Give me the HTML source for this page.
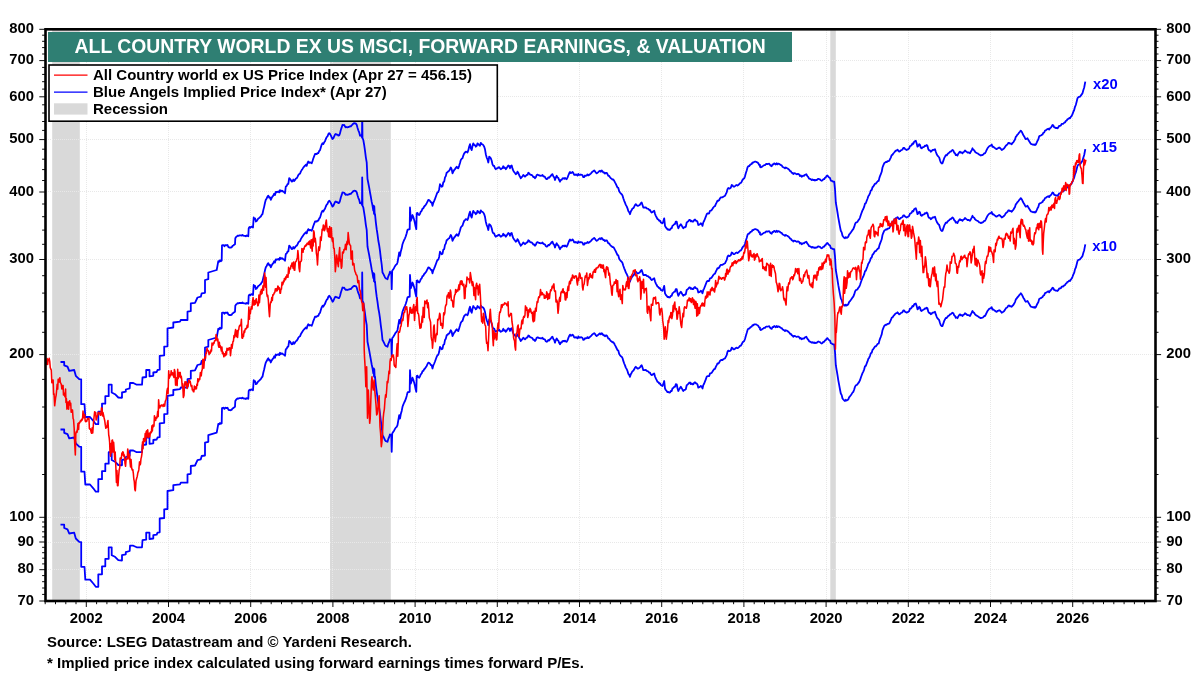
<!DOCTYPE html><html><head><meta charset="utf-8"><title>All Country World ex US MSCI</title>
<style>html,body{margin:0;padding:0;background:#fff}svg{display:block}text{font-family:"Liberation Sans",Arial,sans-serif;font-weight:bold}</style></head><body>
<svg width="1200" height="675" viewBox="0 0 1200 675">
<rect width="1200" height="675" fill="#fff"/>
<rect x="52.2" y="29.3" width="27.6" height="571.7" fill="#d9d9d9"/>
<rect x="330.0" y="29.3" width="60.8" height="571.7" fill="#d9d9d9"/>
<rect x="830.3" y="29.3" width="5.5" height="571.7" fill="#d9d9d9"/>
<path d="M46 569.5H1155.5 M46 542.5H1155.5 M46 517.5H1155.5 M46 354.5H1155.5 M46 259.5H1155.5 M46 191.5H1155.5 M46 139.5H1155.5 M46 96.5H1155.5 M46 60.5H1155.5 M86.5 30V601.0 M168.5 30V601.0 M250.5 30V601.0 M332.5 30V601.0 M415.5 30V601.0 M497.5 30V601.0 M579.5 30V601.0 M661.5 30V601.0 M743.5 30V601.0 M826.5 30V601.0 M908.5 30V601.0 M990.5 30V601.0 M1072.5 30V601.0" stroke="#e8e8e8" stroke-width="1" stroke-dasharray="1 1" fill="none"/>
<svg x="0" y="0" width="1200" height="675"><clipPath id="c"><rect x="45.5" y="29.3" width="1110.0" height="571.7"/></clipPath><g clip-path="url(#c)"><path d="M60.5 524.7 L64.2 524.7 L64.2 528.0 L67.5 529.3 L69.2 533.5 L74.2 532.7 L75.8 538.5 L79.2 541.8 L81.2 542.2 L81.2 566.8 L84.5 566.8 L85.3 579.7 L90.0 579.7 L93.3 583.5 L95.8 586.8 L98.3 586.8 L98.3 574.3 L102.0 574.3 L102.0 566.3 L105.3 566.3 L105.3 558.8 L108.7 558.8 L108.7 547.3 L111.7 547.3 L111.7 555.2 L115.0 556.8 L118.3 560.2 L122.0 560.5 L122.0 555.2 L125.8 554.3 L125.8 552.2 L129.7 551.0 L130.0 545.7 L133.3 545.7 L136.7 547.3 L142.0 547.3 L142.5 540.2 L146.2 539.7 L146.2 532.7 L149.5 532.7 L149.5 539.0 L153.3 538.5 L153.3 535.2 L156.7 534.7 L157.5 532.7 L159.7 532.3 L159.7 518.5 L164.2 518.0 L164.2 509.3 L167.5 509.0 L167.5 491.0 L173.3 490.2 L173.3 485.2 L180.0 484.3 L180.8 482.7 L187.5 482.7 L187.5 474.3 L190.8 473.8 L190.8 466.0 L195.0 465.5 L197.5 460.2 L200.8 459.3 L201.7 456.0 L205.0 455.5 L205.0 442.7 L208.3 441.8 L208.3 435.2 L216.7 432.7 L217.5 428.3 L218.3 423.8 L219.2 424.3 L220.0 423.0 L220.8 423.9 L221.7 423.2 L222.0 408.0 L222.8 407.8 L223.6 407.7 L224.4 408.9 L225.1 407.9 L225.9 407.7 L226.7 408.1 L227.5 407.7 L228.3 409.5 L229.2 410.2 L230.0 410.0 L230.8 410.3 L231.7 409.8 L232.5 408.5 L233.3 408.1 L234.2 407.3 L235.0 406.8 L235.3 401.0 L236.1 399.7 L236.9 399.0 L237.6 398.4 L238.4 398.6 L239.2 398.2 L240.0 398.1 L240.8 398.1 L241.7 398.3 L242.5 397.6 L243.3 398.3 L244.2 398.6 L245.0 398.5 L245.8 399.0 L246.7 398.2 L247.5 398.5 L248.3 398.8 L248.7 391.0 L249.5 389.7 L250.4 390.4 L251.3 389.3 L252.1 389.5 L253.0 390.2 L253.7 380.2 L254.4 381.9 L255.1 381.2 L255.8 383.5 L255.8 384.2 L256.7 383.7 L257.5 382.5 L258.3 381.2 L259.2 380.7 L260.0 379.8 L260.8 379.1 L261.7 377.5 L262.5 376.7 L263.3 372.8 L264.2 369.3 L265.0 365.5 L265.8 362.5 L266.7 361.1 L267.5 359.3 L268.3 358.3 L269.2 360.3 L270.0 360.1 L270.8 362.5 L271.7 360.5 L272.5 359.2 L273.3 358.3 L274.2 356.3 L275.0 357.7 L275.8 354.5 L276.7 355.0 L277.5 354.6 L278.3 354.2 L279.2 355.1 L280.0 352.8 L280.8 354.2 L281.7 353.3 L282.5 353.6 L283.3 354.5 L284.2 354.8 L285.0 355.8 L285.8 349.2 L286.7 348.7 L287.5 346.9 L288.3 346.7 L289.2 340.8 L290.0 341.6 L290.8 342.7 L291.7 344.3 L292.5 344.2 L293.3 342.2 L294.2 343.7 L295.0 342.7 L295.8 341.2 L296.7 340.8 L297.5 339.6 L298.3 337.8 L299.2 336.7 L300.0 336.3 L300.8 334.3 L301.7 332.8 L302.5 331.5 L303.3 330.3 L304.2 329.2 L305.0 328.5 L305.8 327.5 L306.7 328.5 L307.5 325.7 L308.3 324.2 L309.2 325.5 L310.0 325.0 L310.8 325.3 L311.7 325.8 L312.5 323.7 L313.3 321.1 L314.2 318.9 L315.0 316.7 L315.8 316.6 L316.7 316.8 L317.5 315.8 L318.3 315.8 L319.2 313.6 L320.0 312.9 L320.8 310.1 L321.7 307.3 L322.5 305.8 L323.3 306.7 L324.2 305.0 L325.0 303.9 L325.8 301.6 L326.7 299.8 L327.5 299.1 L328.3 296.9 L329.2 295.8 L330.0 296.7 L330.8 298.0 L331.7 299.9 L332.5 301.7 L333.3 301.0 L334.2 298.9 L335.0 297.1 L335.8 296.7 L336.7 297.4 L337.5 297.4 L338.3 298.1 L339.2 298.0 L340.0 296.0 L340.8 292.7 L341.7 290.0 L342.5 287.5 L343.3 287.9 L344.2 287.7 L345.0 289.1 L345.8 289.9 L346.7 289.7 L347.5 290.0 L348.3 289.7 L349.2 289.4 L350.0 288.9 L350.8 289.2 L351.7 287.9 L352.5 287.3 L353.3 286.2 L354.2 285.8 L355.0 286.1 L355.8 286.1 L356.7 287.5 L357.5 290.4 L358.3 292.9 L359.2 295.0 L360.0 298.3 L361.0 297.9 L362.0 300.0 L362.2 272.5 L362.5 300.8 L363.3 302.5 L364.2 307.9 L365.0 313.3 L365.8 319.8 L366.7 325.0 L367.5 341.7 L368.3 345.7 L369.2 350.3 L370.0 355.0 L370.8 359.3 L371.7 364.5 L372.5 368.2 L373.3 373.3 L373.7 368.3 L374.0 376.3 L374.3 369.2 L374.7 377.5 L375.0 376.7 L375.8 384.8 L376.7 391.8 L377.5 397.1 L378.3 403.2 L379.2 408.1 L380.0 413.5 L380.8 420.6 L381.7 427.1 L382.5 435.2 L383.3 436.4 L384.2 438.3 L385.0 440.2 L385.8 441.1 L386.7 441.4 L387.5 441.8 L388.3 438.9 L389.2 437.0 L390.0 434.3 L390.7 435.3 L391.3 435.2 L391.7 451.8 L392.2 433.5 L393.3 431.8 L394.2 430.4 L395.0 428.9 L395.8 427.6 L396.7 426.9 L397.5 425.2 L398.3 420.4 L399.2 415.2 L400.0 418.5 L400.8 414.1 L401.7 410.9 L402.5 406.8 L403.3 404.6 L404.2 402.5 L405.0 401.0 L405.8 398.9 L406.7 395.9 L407.5 392.7 L408.2 392.0 L408.9 392.2 L409.7 391.8 L410.0 370.2 L410.8 383.5 L411.7 380.8 L412.5 377.7 L413.3 379.8 L414.2 382.7 L414.9 385.6 L415.6 389.1 L416.3 391.8 L416.7 376.0 L417.5 375.6 L418.3 377.3 L419.2 377.7 L420.0 376.4 L420.8 374.3 L421.7 373.4 L422.5 371.2 L423.3 371.0 L424.2 369.2 L425.0 368.5 L425.8 367.3 L426.7 365.9 L427.5 364.2 L428.3 362.7 L429.2 362.9 L430.0 363.6 L430.8 365.0 L431.7 365.2 L432.5 368.5 L433.3 365.5 L434.2 363.5 L435.0 361.5 L435.8 359.3 L436.7 356.8 L437.5 355.0 L438.3 354.8 L439.2 351.8 L440.0 346.8 L440.8 348.1 L441.7 349.3 L442.5 348.8 L443.3 344.9 L444.2 344.3 L445.0 340.0 L445.8 338.7 L446.7 335.2 L447.5 334.9 L448.3 333.9 L449.2 333.5 L450.0 331.8 L450.8 330.2 L451.7 332.0 L452.5 336.0 L453.3 334.3 L454.2 332.6 L455.0 331.8 L455.8 330.4 L456.7 329.3 L457.5 330.6 L458.3 331.0 L459.2 328.2 L460.0 325.6 L460.8 322.7 L461.7 321.4 L462.5 321.0 L463.3 318.2 L464.2 316.0 L465.0 315.2 L465.8 314.3 L466.7 314.6 L467.5 315.2 L468.3 313.1 L469.2 309.1 L470.0 306.8 L470.8 310.8 L471.7 312.7 L472.5 308.8 L473.3 306.0 L474.2 307.7 L475.0 307.8 L475.8 309.3 L476.7 308.6 L477.5 306.0 L478.3 306.9 L479.2 307.9 L480.0 308.5 L480.8 305.5 L481.7 306.9 L482.5 307.1 L483.3 307.8 L484.2 309.3 L485.0 312.0 L485.8 316.8 L486.7 320.3 L487.5 322.0 L488.3 325.2 L489.2 319.3 L490.0 319.8 L490.8 321.0 L491.7 323.5 L492.5 327.1 L493.3 328.5 L494.2 328.6 L495.0 330.8 L495.8 331.8 L496.7 331.0 L497.5 331.0 L498.3 330.2 L499.2 329.7 L500.0 331.0 L500.8 331.8 L501.7 331.3 L502.5 330.7 L503.3 328.8 L504.2 330.7 L505.0 330.3 L505.8 331.8 L506.7 330.6 L507.5 329.3 L508.3 328.2 L509.2 328.8 L510.0 331.0 L510.8 328.8 L511.7 328.2 L512.5 331.2 L513.3 333.5 L514.2 334.7 L515.0 335.6 L515.8 336.8 L516.7 336.2 L517.5 334.3 L518.3 335.4 L519.2 337.9 L520.0 339.3 L520.8 341.0 L521.7 339.8 L522.5 339.0 L523.3 337.7 L524.2 338.6 L525.0 339.3 L525.8 338.5 L526.7 337.5 L527.5 337.5 L528.3 335.5 L529.2 335.9 L530.0 337.1 L530.8 337.4 L531.7 337.7 L532.5 338.3 L533.3 339.8 L534.2 339.7 L535.0 341.0 L535.8 340.0 L536.7 337.7 L537.5 337.3 L538.3 337.6 L539.2 338.2 L540.0 338.2 L540.8 338.4 L541.7 338.3 L542.5 337.7 L543.3 339.0 L544.2 339.2 L545.0 339.6 L545.8 341.3 L546.7 341.8 L547.5 341.4 L548.3 340.0 L549.2 340.5 L550.0 339.3 L550.8 338.6 L551.7 337.1 L552.5 336.8 L553.3 339.0 L554.2 340.0 L555.0 342.7 L555.8 340.1 L556.7 338.5 L557.5 340.2 L558.3 340.5 L559.2 342.9 L560.0 344.3 L560.8 342.5 L561.7 342.5 L562.5 341.0 L563.3 340.8 L564.2 341.4 L565.0 340.7 L565.8 341.5 L566.7 341.8 L567.5 340.4 L568.3 338.2 L569.2 336.0 L570.0 334.6 L570.8 335.8 L571.7 335.5 L572.5 334.7 L573.3 335.4 L574.2 337.4 L575.0 337.7 L575.8 337.1 L576.7 337.6 L577.5 338.3 L578.3 337.7 L578.3 336.5 L579.2 337.4 L580.0 337.6 L580.8 337.2 L581.7 337.4 L582.5 338.0 L583.3 339.8 L584.2 339.6 L585.0 338.2 L585.8 338.5 L586.7 338.2 L587.5 337.1 L588.3 338.1 L589.2 337.6 L590.0 336.8 L590.8 336.3 L591.7 335.2 L592.5 334.3 L593.3 333.8 L594.2 333.2 L595.0 333.9 L595.8 335.3 L596.7 336.0 L597.5 335.4 L598.3 334.8 L599.2 333.8 L600.0 333.4 L600.8 334.4 L601.7 333.2 L602.5 334.0 L603.3 335.3 L604.2 335.2 L605.0 336.3 L605.8 335.5 L606.7 335.5 L607.5 336.8 L608.3 338.6 L609.2 338.7 L610.0 340.0 L610.8 341.0 L611.7 341.5 L612.5 342.3 L613.3 342.2 L614.2 343.5 L615.0 345.1 L615.8 346.6 L616.7 348.5 L617.5 350.1 L618.3 350.5 L619.2 353.9 L620.0 355.2 L620.8 356.2 L621.7 356.8 L622.5 358.1 L623.3 360.9 L624.2 363.5 L625.0 365.4 L625.8 367.6 L626.7 369.1 L627.5 371.0 L628.3 373.7 L629.2 374.9 L630.0 376.8 L630.8 374.2 L631.7 372.7 L632.5 371.2 L633.3 370.8 L634.2 369.3 L635.0 367.7 L635.8 366.8 L636.7 367.8 L637.5 368.5 L638.3 368.5 L639.2 368.0 L640.0 367.4 L640.8 365.9 L641.7 365.2 L642.5 367.6 L643.3 370.2 L644.2 370.0 L645.0 370.2 L645.8 369.9 L646.7 371.0 L647.5 371.2 L648.3 371.5 L649.2 372.7 L650.0 372.7 L650.8 374.4 L651.7 375.2 L652.5 374.8 L653.3 373.9 L654.2 373.5 L655.0 376.5 L655.8 378.4 L656.7 380.2 L657.5 381.8 L658.3 382.0 L659.2 383.5 L660.0 383.3 L660.8 385.0 L661.7 385.5 L662.5 386.0 L663.3 383.9 L664.2 381.0 L665.0 388.5 L665.8 390.0 L666.7 391.0 L667.5 392.2 L668.3 391.9 L669.2 392.7 L670.0 392.5 L670.8 391.0 L671.7 391.0 L672.5 388.3 L673.3 388.0 L674.2 386.8 L675.0 386.8 L675.8 384.2 L676.7 384.3 L677.5 388.2 L678.3 391.0 L679.2 389.2 L680.0 388.0 L680.8 386.8 L681.7 388.2 L682.5 389.7 L683.3 391.0 L684.2 389.9 L685.0 389.9 L685.8 389.3 L686.7 385.2 L687.5 384.6 L688.3 383.9 L689.2 382.7 L690.0 382.5 L690.8 384.1 L691.7 383.5 L692.5 384.3 L693.3 384.3 L694.2 382.7 L695.0 382.2 L695.8 383.3 L696.7 383.5 L697.5 384.5 L698.3 387.7 L699.2 387.3 L700.0 386.8 L700.8 386.0 L701.7 386.6 L702.5 388.5 L703.3 385.1 L704.2 383.5 L705.0 381.4 L705.8 379.4 L706.7 376.8 L707.5 376.1 L708.3 376.1 L709.2 376.0 L710.0 373.5 L710.8 373.4 L711.7 372.7 L712.5 371.5 L713.3 370.2 L714.2 369.1 L715.0 368.8 L715.8 366.8 L716.7 365.1 L717.5 363.4 L718.3 363.5 L719.2 362.6 L720.0 360.9 L720.8 360.2 L721.7 360.0 L722.5 360.0 L723.3 359.3 L724.2 358.8 L725.0 358.4 L725.8 356.8 L726.7 355.1 L727.5 351.8 L728.3 350.6 L729.2 351.2 L730.0 351.0 L730.8 350.4 L731.7 347.7 L732.5 348.0 L733.3 349.3 L734.2 349.3 L735.0 348.7 L735.8 348.0 L736.7 347.7 L737.5 348.2 L738.3 347.7 L739.2 346.8 L740.0 345.9 L740.8 345.7 L741.7 344.3 L742.5 342.5 L743.3 341.7 L744.2 341.0 L745.0 339.0 L745.8 336.0 L746.7 333.1 L747.5 330.2 L748.3 328.7 L749.2 328.7 L750.0 327.7 L750.8 327.0 L751.7 326.7 L752.5 325.2 L753.3 325.4 L754.2 324.4 L755.0 324.3 L755.8 324.3 L756.7 324.8 L757.5 325.2 L758.3 325.9 L759.2 327.6 L760.0 327.7 L760.0 329.3 L760.8 330.0 L761.7 329.6 L762.5 328.9 L763.3 328.5 L764.2 327.8 L765.0 327.9 L765.8 326.8 L766.7 326.5 L767.5 326.7 L768.3 326.5 L769.2 326.2 L770.0 327.6 L770.8 328.5 L771.7 328.8 L772.5 327.0 L773.3 327.2 L774.2 326.0 L775.0 326.5 L775.8 327.2 L776.7 326.0 L777.5 327.1 L778.3 326.4 L779.2 326.6 L780.0 327.2 L780.8 327.8 L781.7 328.1 L782.5 329.3 L783.3 329.9 L784.2 330.3 L785.0 331.0 L785.8 330.2 L786.7 330.7 L787.5 331.0 L788.3 331.8 L789.2 332.4 L790.0 333.8 L790.8 333.8 L791.7 335.4 L792.5 335.5 L793.3 336.8 L794.2 335.8 L795.0 336.0 L795.8 336.5 L796.7 336.9 L797.5 336.7 L798.3 336.6 L799.2 337.2 L800.0 338.6 L800.8 338.0 L801.7 339.3 L802.5 338.6 L803.3 338.4 L804.2 338.5 L804.9 337.4 L805.6 337.2 L806.3 336.8 L807.3 338.6 L808.3 339.8 L809.2 341.3 L810.0 341.6 L810.8 342.0 L811.7 342.7 L812.5 342.1 L813.3 342.9 L814.2 342.5 L815.0 343.2 L815.8 342.7 L816.7 342.9 L817.5 342.0 L818.3 341.5 L819.2 341.9 L820.0 342.1 L820.8 343.0 L821.7 343.5 L822.5 343.0 L823.3 341.9 L824.2 341.8 L825.0 340.4 L825.8 340.1 L826.7 338.5 L827.5 338.1 L828.3 339.4 L829.2 340.2 L830.0 340.6 L830.8 343.2 L831.7 343.5 L832.5 344.1 L833.3 344.3 L834.2 344.3 L835.0 351.8 L835.8 365.2 L836.7 370.4 L837.5 375.2 L838.3 380.3 L839.2 385.2 L840.0 389.5 L840.8 393.5 L841.7 395.1 L842.5 398.5 L843.3 399.5 L844.2 400.5 L845.0 401.0 L845.8 399.8 L846.7 400.6 L847.5 400.1 L848.3 399.3 L849.2 397.1 L850.0 396.3 L850.8 395.2 L851.7 393.9 L852.5 392.6 L853.3 391.8 L854.2 389.5 L855.0 386.8 L855.8 385.3 L856.7 385.0 L857.5 384.3 L858.3 383.1 L859.2 381.9 L860.0 380.2 L860.8 377.7 L861.7 375.2 L862.5 373.1 L863.3 371.6 L864.2 369.3 L865.0 366.3 L865.8 365.9 L866.7 363.5 L867.5 361.4 L868.3 358.9 L869.2 357.7 L870.0 355.8 L870.8 353.3 L871.7 352.7 L872.5 349.9 L873.3 349.1 L874.2 347.7 L875.0 346.4 L875.8 346.4 L876.7 345.2 L877.7 343.8 L878.7 343.5 L879.4 340.6 L880.1 338.5 L880.8 336.8 L881.7 334.4 L882.5 330.2 L883.3 328.1 L884.2 326.0 L885.0 325.3 L885.8 324.7 L886.7 324.8 L887.5 323.8 L888.3 323.8 L889.2 323.5 L890.0 321.8 L890.8 320.2 L891.7 317.7 L892.5 317.5 L893.3 316.1 L894.2 315.2 L895.0 314.1 L895.8 313.3 L896.7 313.2 L897.5 312.3 L898.3 313.4 L899.2 314.3 L900.0 314.0 L900.8 313.0 L901.7 312.7 L902.5 312.1 L903.3 310.5 L904.2 310.5 L905.0 311.7 L905.8 312.1 L906.7 312.7 L907.5 312.1 L908.3 311.8 L909.2 311.0 L910.0 308.6 L910.8 308.5 L911.7 307.7 L912.5 306.0 L913.3 306.4 L914.2 304.3 L915.0 303.8 L915.8 303.5 L916.7 306.1 L917.5 309.3 L918.3 308.5 L919.2 306.8 L920.0 307.6 L920.8 310.4 L921.7 311.0 L922.5 310.0 L923.3 309.8 L924.2 309.3 L925.0 308.3 L925.8 308.7 L926.7 307.7 L927.5 308.5 L928.3 311.8 L929.2 313.0 L930.0 313.0 L930.8 314.3 L931.7 313.8 L932.5 312.6 L933.3 312.7 L934.2 312.4 L935.0 311.8 L935.8 314.4 L936.7 316.8 L937.5 318.3 L938.3 319.2 L939.2 320.2 L940.0 323.0 L940.8 325.2 L941.7 326.1 L942.5 326.0 L943.3 323.6 L944.2 320.9 L945.0 319.3 L945.8 317.8 L946.7 318.0 L947.5 316.8 L948.3 315.9 L949.2 315.5 L950.0 314.3 L950.8 314.3 L951.7 313.2 L952.5 312.7 L953.3 313.2 L954.2 315.4 L955.0 316.0 L955.8 317.8 L956.7 317.3 L957.5 318.2 L958.3 316.4 L959.2 315.1 L960.0 314.3 L960.8 315.4 L961.7 315.1 L962.5 316.0 L963.3 314.8 L964.2 314.5 L965.0 313.2 L965.8 313.8 L966.7 314.5 L967.5 315.2 L968.3 315.1 L969.2 315.4 L970.0 316.0 L970.8 314.4 L971.7 312.7 L972.5 311.0 L973.3 312.4 L974.2 312.9 L975.0 314.3 L975.8 315.1 L976.7 315.7 L977.5 316.0 L978.3 316.6 L979.2 317.4 L980.0 317.7 L980.8 318.2 L981.7 317.8 L982.5 317.7 L983.3 317.1 L984.2 316.0 L985.0 316.0 L985.8 314.5 L986.7 312.6 L987.5 311.0 L988.3 310.0 L989.2 308.9 L990.0 308.5 L990.8 308.1 L991.7 307.2 L992.5 309.6 L993.3 309.4 L994.2 310.2 L995.0 310.8 L995.8 311.5 L996.7 311.8 L997.5 310.9 L998.3 310.8 L999.2 310.2 L1000.0 310.6 L1000.8 311.5 L1001.7 312.7 L1002.5 312.2 L1003.3 311.7 L1004.2 311.0 L1005.0 309.8 L1005.8 308.3 L1006.7 307.7 L1007.5 307.1 L1008.3 305.6 L1009.2 305.5 L1010.0 306.4 L1010.8 306.2 L1011.7 306.8 L1012.5 305.7 L1013.3 305.0 L1014.2 303.5 L1015.0 302.1 L1015.8 299.4 L1016.7 298.5 L1017.5 297.2 L1018.3 296.5 L1019.2 295.2 L1020.0 294.3 L1020.8 293.3 L1021.7 294.3 L1022.5 295.9 L1023.3 297.7 L1024.2 299.0 L1025.0 300.7 L1025.8 301.8 L1026.7 301.4 L1027.5 301.0 L1028.3 302.4 L1029.2 303.9 L1030.0 305.2 L1030.8 306.6 L1031.7 306.8 L1032.5 307.2 L1033.3 307.5 L1034.2 306.9 L1035.0 307.8 L1035.8 307.2 L1036.7 305.2 L1037.5 303.5 L1038.3 302.2 L1039.2 299.0 L1040.0 298.5 L1040.8 298.2 L1041.7 297.5 L1042.5 297.2 L1043.3 295.6 L1044.2 295.2 L1045.0 293.2 L1045.8 292.9 L1046.7 292.2 L1047.5 291.8 L1048.3 291.3 L1049.2 292.3 L1050.0 291.0 L1050.8 290.3 L1051.7 289.1 L1052.5 287.7 L1053.3 288.1 L1054.2 290.0 L1055.0 290.2 L1055.8 290.7 L1056.7 290.6 L1057.5 291.0 L1058.3 290.1 L1059.2 288.4 L1060.0 288.5 L1060.8 288.2 L1061.7 286.6 L1062.5 286.5 L1063.3 286.5 L1064.2 285.4 L1065.0 285.2 L1065.8 283.7 L1066.7 283.1 L1067.5 281.8 L1068.3 281.7 L1069.2 280.6 L1070.0 281.0 L1070.8 279.6 L1071.7 278.5 L1072.5 276.8 L1073.3 274.6 L1074.2 272.7 L1075.0 269.4 L1075.8 267.7 L1076.7 264.2 L1077.5 261.0 L1078.3 259.9 L1079.2 259.6 L1080.0 259.3 L1080.8 258.2 L1081.7 257.1 L1082.5 256.0 L1083.3 253.0 L1084.2 250.2 L1085.3 244.3" stroke="#0000ff" stroke-width="1.8" fill="none" stroke-linejoin="round"/>
<path d="M60.5 429.5 L64.2 429.5 L64.2 432.8 L67.5 434.2 L69.2 438.3 L74.2 437.5 L75.8 443.3 L79.2 446.7 L81.2 447.0 L81.2 471.7 L84.5 471.7 L85.3 484.5 L90.0 484.5 L93.3 488.3 L95.8 491.7 L98.3 491.7 L98.3 479.2 L102.0 479.2 L102.0 471.2 L105.3 471.2 L105.3 463.7 L108.7 463.7 L108.7 452.2 L111.7 452.2 L111.7 460.0 L115.0 461.7 L118.3 465.0 L122.0 465.3 L122.0 460.0 L125.8 459.2 L125.8 457.0 L129.7 455.8 L130.0 450.5 L133.3 450.5 L136.7 452.2 L142.0 452.2 L142.5 445.0 L146.2 444.5 L146.2 437.5 L149.5 437.5 L149.5 443.8 L153.3 443.3 L153.3 440.0 L156.7 439.5 L157.5 437.5 L159.7 437.2 L159.7 423.3 L164.2 422.8 L164.2 414.2 L167.5 413.8 L167.5 395.8 L173.3 395.0 L173.3 390.0 L180.0 389.2 L180.8 387.5 L187.5 387.5 L187.5 379.2 L190.8 378.7 L190.8 370.8 L195.0 370.3 L197.5 365.0 L200.8 364.2 L201.7 360.8 L205.0 360.3 L205.0 347.5 L208.3 346.7 L208.3 340.0 L216.7 337.5 L217.5 333.1 L218.3 328.7 L219.2 329.2 L220.0 327.8 L220.8 328.7 L221.7 328.0 L222.0 312.8 L222.8 312.6 L223.6 312.6 L224.4 313.7 L225.1 312.7 L225.9 312.6 L226.7 312.9 L227.5 312.5 L228.3 314.4 L229.2 315.0 L230.0 314.9 L230.8 315.1 L231.7 314.7 L232.5 313.4 L233.3 313.0 L234.2 312.2 L235.0 311.7 L235.3 305.8 L236.1 304.5 L236.9 303.9 L237.6 303.2 L238.4 303.4 L239.2 303.0 L240.0 303.0 L240.8 302.9 L241.7 303.2 L242.5 302.5 L243.3 303.2 L244.2 303.4 L245.0 303.3 L245.8 303.8 L246.7 303.0 L247.5 303.4 L248.3 303.7 L248.7 295.8 L249.5 294.6 L250.4 295.2 L251.3 294.1 L252.1 294.4 L253.0 295.0 L253.7 285.0 L254.4 286.7 L255.1 286.0 L255.8 288.3 L255.8 289.0 L256.7 288.5 L257.5 287.3 L258.3 286.0 L259.2 285.5 L260.0 284.6 L260.8 284.0 L261.7 282.3 L262.5 281.5 L263.3 277.6 L264.2 274.1 L265.0 270.3 L265.8 267.3 L266.7 265.9 L267.5 264.1 L268.3 263.2 L269.2 265.2 L270.0 264.9 L270.8 267.3 L271.7 265.4 L272.5 264.0 L273.3 263.2 L274.2 261.2 L275.0 262.6 L275.8 259.4 L276.7 259.8 L277.5 259.4 L278.3 259.0 L279.2 259.9 L280.0 257.6 L280.8 259.0 L281.7 258.2 L282.5 258.4 L283.3 259.3 L284.2 259.7 L285.0 260.7 L285.8 254.0 L286.7 253.5 L287.5 251.7 L288.3 251.5 L289.2 245.7 L290.0 246.5 L290.8 247.5 L291.7 249.2 L292.5 249.0 L293.3 247.0 L294.2 248.5 L295.0 247.5 L295.8 246.1 L296.7 245.7 L297.5 244.5 L298.3 242.6 L299.2 241.5 L300.0 241.2 L300.8 239.1 L301.7 237.6 L302.5 236.4 L303.3 235.2 L304.2 234.0 L305.0 233.3 L305.8 232.3 L306.7 233.4 L307.5 230.6 L308.3 229.1 L309.2 230.4 L310.0 229.8 L310.8 230.2 L311.7 230.7 L312.5 228.6 L313.3 226.0 L314.2 223.7 L315.0 221.5 L315.8 221.5 L316.7 221.6 L317.5 220.6 L318.3 220.7 L319.2 218.5 L320.0 217.7 L320.8 215.0 L321.7 212.1 L322.5 210.7 L323.3 211.5 L324.2 209.8 L325.0 208.7 L325.8 206.5 L326.7 204.6 L327.5 203.9 L328.3 201.8 L329.2 200.7 L330.0 201.6 L330.8 202.9 L331.7 204.8 L332.5 206.5 L333.3 205.9 L334.2 203.8 L335.0 202.0 L335.8 201.5 L336.7 202.2 L337.5 202.2 L338.3 203.0 L339.2 202.8 L340.0 200.9 L340.8 197.5 L341.7 194.9 L342.5 192.3 L343.3 192.7 L344.2 192.6 L345.0 194.0 L345.8 194.8 L346.7 194.5 L347.5 194.8 L348.3 194.5 L349.2 194.3 L350.0 193.8 L350.8 194.0 L351.7 192.7 L352.5 192.1 L353.3 191.1 L354.2 190.7 L355.0 191.0 L355.8 190.9 L356.7 192.3 L357.5 195.2 L358.3 197.8 L359.2 199.8 L360.0 203.2 L361.0 202.7 L362.0 204.8 L362.2 177.3 L362.5 205.7 L363.3 207.3 L364.2 212.8 L365.0 218.2 L365.8 224.6 L366.7 229.8 L367.5 246.5 L368.3 250.6 L369.2 255.1 L370.0 259.8 L370.8 264.1 L371.7 269.4 L372.5 273.1 L373.3 278.2 L373.7 273.2 L374.0 281.2 L374.3 274.0 L374.7 282.3 L375.0 281.5 L375.8 289.6 L376.7 296.7 L377.5 301.9 L378.3 308.0 L379.2 312.9 L380.0 318.3 L380.8 325.4 L381.7 332.0 L382.5 340.0 L383.3 341.3 L384.2 343.2 L385.0 345.0 L385.8 345.9 L386.7 346.2 L387.5 346.7 L388.3 343.8 L389.2 341.9 L390.0 339.2 L390.7 340.1 L391.3 340.0 L391.7 356.7 L392.2 338.3 L393.3 336.7 L394.2 335.3 L395.0 333.8 L395.8 332.5 L396.7 331.8 L397.5 330.0 L398.3 325.3 L399.2 320.0 L400.0 323.3 L400.8 318.9 L401.7 315.8 L402.5 311.7 L403.3 309.5 L404.2 307.4 L405.0 305.8 L405.8 303.7 L406.7 300.7 L407.5 297.5 L408.2 296.8 L408.9 297.0 L409.7 296.7 L410.0 275.0 L410.8 288.3 L411.7 285.7 L412.5 282.5 L413.3 284.6 L414.2 287.5 L414.9 290.5 L415.6 294.0 L416.3 296.7 L416.7 280.8 L417.5 280.4 L418.3 282.1 L419.2 282.5 L420.0 281.2 L420.8 279.2 L421.7 278.3 L422.5 276.1 L423.3 275.8 L424.2 274.0 L425.0 273.3 L425.8 272.2 L426.7 270.7 L427.5 269.1 L428.3 267.5 L429.2 267.7 L430.0 268.4 L430.8 269.8 L431.7 270.0 L432.5 273.3 L433.3 270.3 L434.2 268.3 L435.0 266.4 L435.8 264.2 L436.7 261.7 L437.5 259.8 L438.3 259.7 L439.2 256.7 L440.0 251.7 L440.8 253.0 L441.7 254.2 L442.5 253.7 L443.3 249.7 L444.2 249.2 L445.0 244.9 L445.8 243.6 L446.7 240.0 L447.5 239.8 L448.3 238.7 L449.2 238.3 L450.0 236.6 L450.8 235.0 L451.7 236.9 L452.5 240.8 L453.3 239.1 L454.2 237.5 L455.0 236.7 L455.8 235.3 L456.7 234.2 L457.5 235.5 L458.3 235.8 L459.2 233.1 L460.0 230.5 L460.8 227.5 L461.7 226.3 L462.5 225.8 L463.3 223.1 L464.2 220.8 L465.0 220.1 L465.8 219.2 L466.7 219.4 L467.5 220.0 L468.3 217.9 L469.2 214.0 L470.0 211.7 L470.8 215.6 L471.7 217.5 L472.5 213.6 L473.3 210.8 L474.2 212.5 L475.0 212.6 L475.8 214.2 L476.7 213.4 L477.5 210.8 L478.3 211.7 L479.2 212.7 L480.0 213.3 L480.8 210.3 L481.7 211.7 L482.5 211.9 L483.3 212.6 L484.2 214.2 L485.0 216.8 L485.8 221.7 L486.7 225.1 L487.5 226.8 L488.3 230.0 L489.2 224.2 L490.0 224.7 L490.8 225.8 L491.7 228.3 L492.5 231.9 L493.3 233.3 L494.2 233.5 L495.0 235.7 L495.8 236.7 L496.7 235.9 L497.5 235.8 L498.3 235.0 L499.2 234.6 L500.0 235.9 L500.8 236.7 L501.7 236.1 L502.5 235.5 L503.3 233.7 L504.2 235.5 L505.0 235.2 L505.8 236.7 L506.7 235.5 L507.5 234.2 L508.3 233.0 L509.2 233.7 L510.0 235.8 L510.8 233.6 L511.7 233.0 L512.5 236.1 L513.3 238.3 L514.2 239.6 L515.0 240.5 L515.8 241.7 L516.7 241.1 L517.5 239.2 L518.3 240.3 L519.2 242.8 L520.0 244.2 L520.8 245.8 L521.7 244.7 L522.5 243.9 L523.3 242.5 L524.2 243.4 L525.0 244.2 L525.8 243.4 L526.7 242.4 L527.5 242.4 L528.3 240.3 L529.2 240.7 L530.0 242.0 L530.8 242.3 L531.7 242.5 L532.5 243.1 L533.3 244.6 L534.2 244.5 L535.0 245.8 L535.8 244.8 L536.7 242.5 L537.5 242.2 L538.3 242.5 L539.2 243.1 L540.0 243.0 L540.8 243.3 L541.7 243.2 L542.5 242.5 L543.3 243.8 L544.2 244.1 L545.0 244.5 L545.8 246.1 L546.7 246.7 L547.5 246.2 L548.3 244.9 L549.2 245.3 L550.0 244.2 L550.8 243.4 L551.7 242.0 L552.5 241.7 L553.3 243.9 L554.2 244.8 L555.0 247.5 L555.8 244.9 L556.7 243.3 L557.5 245.0 L558.3 245.4 L559.2 247.7 L560.0 249.2 L560.8 247.3 L561.7 247.3 L562.5 245.8 L563.3 245.6 L564.2 246.3 L565.0 245.5 L565.8 246.3 L566.7 246.7 L567.5 245.2 L568.3 243.0 L569.2 240.8 L570.0 239.5 L570.8 240.7 L571.7 240.3 L572.5 239.5 L573.3 240.3 L574.2 242.3 L575.0 242.5 L575.8 241.9 L576.7 242.5 L577.5 243.1 L578.3 242.5 L578.3 241.3 L579.2 242.3 L580.0 242.5 L580.8 242.0 L581.7 242.3 L582.5 242.8 L583.3 244.7 L584.2 244.5 L585.0 243.0 L585.8 243.3 L586.7 243.0 L587.5 242.0 L588.3 242.9 L589.2 242.4 L590.0 241.7 L590.8 241.1 L591.7 240.0 L592.5 239.2 L593.3 238.6 L594.2 238.0 L595.0 238.8 L595.8 240.1 L596.7 240.8 L597.5 240.2 L598.3 239.6 L599.2 238.7 L600.0 238.2 L600.8 239.3 L601.7 238.0 L602.5 238.8 L603.3 240.1 L604.2 240.0 L605.0 241.1 L605.8 240.3 L606.7 240.3 L607.5 241.7 L608.3 243.4 L609.2 243.5 L610.0 244.8 L610.8 245.8 L611.7 246.3 L612.5 247.2 L613.3 247.1 L614.2 248.3 L615.0 249.9 L615.8 251.4 L616.7 253.3 L617.5 255.0 L618.3 255.4 L619.2 258.8 L620.0 260.0 L620.8 261.0 L621.7 261.7 L622.5 262.9 L623.3 265.7 L624.2 268.3 L625.0 270.2 L625.8 272.4 L626.7 274.0 L627.5 275.8 L628.3 278.5 L629.2 279.7 L630.0 281.7 L630.8 279.0 L631.7 277.5 L632.5 276.0 L633.3 275.7 L634.2 274.2 L635.0 272.6 L635.8 271.7 L636.7 272.7 L637.5 273.3 L638.3 273.3 L639.2 272.8 L640.0 272.2 L640.8 270.7 L641.7 270.0 L642.5 272.5 L643.3 275.0 L644.2 274.9 L645.0 275.1 L645.8 274.8 L646.7 275.8 L647.5 276.1 L648.3 276.4 L649.2 277.5 L650.0 277.5 L650.8 279.2 L651.7 280.0 L652.5 279.7 L653.3 278.7 L654.2 278.3 L655.0 281.3 L655.8 283.3 L656.7 285.0 L657.5 286.7 L658.3 286.9 L659.2 288.3 L660.0 288.1 L660.8 289.9 L661.7 290.4 L662.5 290.8 L663.3 288.7 L664.2 285.8 L665.0 293.3 L665.8 294.8 L666.7 295.8 L667.5 297.1 L668.3 296.8 L669.2 297.5 L670.0 297.3 L670.8 295.9 L671.7 295.8 L672.5 293.2 L673.3 292.8 L674.2 291.7 L675.0 291.7 L675.8 289.1 L676.7 289.2 L677.5 293.1 L678.3 295.8 L679.2 294.1 L680.0 292.8 L680.8 291.7 L681.7 293.1 L682.5 294.6 L683.3 295.8 L684.2 294.7 L685.0 294.8 L685.8 294.2 L686.7 290.0 L687.5 289.4 L688.3 288.8 L689.2 287.5 L690.0 287.4 L690.8 288.9 L691.7 288.3 L692.5 289.1 L693.3 289.1 L694.2 287.5 L695.0 287.0 L695.8 288.2 L696.7 288.3 L697.5 289.4 L698.3 292.5 L699.2 292.2 L700.0 291.7 L700.8 290.8 L701.7 291.5 L702.5 293.3 L703.3 290.0 L704.2 288.3 L705.0 286.2 L705.8 284.2 L706.7 281.7 L707.5 281.0 L708.3 281.0 L709.2 280.8 L710.0 278.3 L710.8 278.2 L711.7 277.5 L712.5 276.3 L713.3 275.0 L714.2 274.0 L715.0 273.6 L715.8 271.7 L716.7 269.9 L717.5 268.2 L718.3 268.3 L719.2 267.5 L720.0 265.8 L720.8 265.0 L721.7 264.9 L722.5 264.8 L723.3 264.2 L724.2 263.7 L725.0 263.3 L725.8 261.7 L726.7 259.9 L727.5 256.7 L728.3 255.5 L729.2 256.1 L730.0 255.8 L730.8 255.3 L731.7 252.5 L732.5 252.8 L733.3 254.1 L734.2 254.2 L735.0 253.6 L735.8 252.8 L736.7 252.5 L737.5 253.1 L738.3 252.5 L739.2 251.7 L740.0 250.7 L740.8 250.5 L741.7 249.2 L742.5 247.3 L743.3 246.5 L744.2 245.8 L745.0 243.8 L745.8 240.8 L746.7 237.9 L747.5 235.0 L748.3 233.6 L749.2 233.6 L750.0 232.5 L750.8 231.8 L751.7 231.5 L752.5 230.0 L753.3 230.2 L754.2 229.3 L755.0 229.2 L755.8 229.2 L756.7 229.6 L757.5 230.0 L758.3 230.7 L759.2 232.5 L760.0 232.5 L760.0 234.2 L760.8 234.8 L761.7 234.5 L762.5 233.8 L763.3 233.3 L764.2 232.6 L765.0 232.7 L765.8 231.7 L766.7 231.4 L767.5 231.6 L768.3 231.3 L769.2 231.1 L770.0 232.4 L770.8 233.3 L771.7 233.7 L772.5 231.9 L773.3 232.0 L774.2 230.9 L775.0 231.3 L775.8 232.0 L776.7 230.8 L777.5 231.9 L778.3 231.2 L779.2 231.4 L780.0 232.0 L780.8 232.7 L781.7 232.9 L782.5 234.2 L783.3 234.7 L784.2 235.1 L785.0 235.8 L785.8 235.0 L786.7 235.5 L787.5 235.8 L788.3 236.6 L789.2 237.2 L790.0 238.7 L790.8 238.6 L791.7 240.3 L792.5 240.3 L793.3 241.6 L794.2 240.7 L795.0 240.8 L795.8 241.3 L796.7 241.8 L797.5 241.5 L798.3 241.4 L799.2 242.0 L800.0 243.5 L800.8 242.9 L801.7 244.2 L802.5 243.5 L803.3 243.2 L804.2 243.3 L804.9 242.3 L805.6 242.1 L806.3 241.7 L807.3 243.5 L808.3 244.7 L809.2 246.2 L810.0 246.4 L810.8 246.8 L811.7 247.5 L812.5 246.9 L813.3 247.7 L814.2 247.4 L815.0 248.0 L815.8 247.5 L816.7 247.7 L817.5 246.9 L818.3 246.3 L819.2 246.7 L820.0 246.9 L820.8 247.8 L821.7 248.3 L822.5 247.8 L823.3 246.7 L824.2 246.7 L825.0 245.3 L825.8 244.9 L826.7 243.3 L827.5 243.0 L828.3 244.2 L829.2 245.0 L830.0 245.5 L830.8 248.1 L831.7 248.3 L832.5 248.9 L833.3 249.2 L834.2 249.2 L835.0 256.7 L835.8 270.0 L836.7 275.2 L837.5 280.0 L838.3 285.2 L839.2 290.0 L840.0 294.3 L840.8 298.3 L841.7 300.0 L842.5 303.3 L843.3 304.3 L844.2 305.3 L845.0 305.8 L845.8 304.6 L846.7 305.5 L847.5 305.0 L848.3 304.2 L849.2 301.9 L850.0 301.1 L850.8 300.0 L851.7 298.7 L852.5 297.5 L853.3 296.7 L854.2 294.4 L855.0 291.7 L855.8 290.1 L856.7 289.9 L857.5 289.2 L858.3 287.9 L859.2 286.8 L860.0 285.0 L860.8 282.5 L861.7 280.0 L862.5 277.9 L863.3 276.5 L864.2 274.2 L865.0 271.1 L865.8 270.8 L866.7 268.3 L867.5 266.2 L868.3 263.8 L869.2 262.5 L870.0 260.6 L870.8 258.2 L871.7 257.5 L872.5 254.7 L873.3 254.0 L874.2 252.5 L875.0 251.2 L875.8 251.2 L876.7 250.0 L877.7 248.7 L878.7 248.3 L879.4 245.4 L880.1 243.4 L880.8 241.7 L881.7 239.3 L882.5 235.0 L883.3 232.9 L884.2 230.8 L885.0 230.1 L885.8 229.5 L886.7 229.7 L887.5 228.6 L888.3 228.7 L889.2 228.3 L890.0 226.6 L890.8 225.1 L891.7 222.5 L892.5 222.3 L893.3 221.0 L894.2 220.0 L895.0 219.0 L895.8 218.2 L896.7 218.0 L897.5 217.1 L898.3 218.2 L899.2 219.2 L900.0 218.8 L900.8 217.9 L901.7 217.5 L902.5 217.0 L903.3 215.3 L904.2 215.3 L905.0 216.5 L905.8 216.9 L906.7 217.5 L907.5 217.0 L908.3 216.6 L909.2 215.8 L910.0 213.5 L910.8 213.3 L911.7 212.5 L912.5 210.9 L913.3 211.3 L914.2 209.2 L915.0 208.6 L915.8 208.3 L916.7 211.0 L917.5 214.2 L918.3 213.4 L919.2 211.7 L920.0 212.5 L920.8 215.2 L921.7 215.8 L922.5 214.9 L923.3 214.7 L924.2 214.2 L925.0 213.1 L925.8 213.5 L926.7 212.5 L927.5 213.4 L928.3 216.7 L929.2 217.9 L930.0 217.9 L930.8 219.2 L931.7 218.6 L932.5 217.4 L933.3 217.5 L934.2 217.2 L935.0 216.7 L935.8 219.3 L936.7 221.7 L937.5 223.1 L938.3 224.1 L939.2 225.0 L940.0 227.8 L940.8 230.0 L941.7 231.0 L942.5 230.8 L943.3 228.4 L944.2 225.7 L945.0 224.2 L945.8 222.6 L946.7 222.9 L947.5 221.7 L948.3 220.8 L949.2 220.3 L950.0 219.2 L950.8 219.2 L951.7 218.1 L952.5 217.5 L953.3 218.1 L954.2 220.2 L955.0 220.8 L955.8 222.6 L956.7 222.2 L957.5 223.0 L958.3 221.2 L959.2 220.0 L960.0 219.2 L960.8 220.2 L961.7 220.0 L962.5 220.8 L963.3 219.7 L964.2 219.3 L965.0 218.0 L965.8 218.7 L966.7 219.4 L967.5 220.0 L968.3 220.0 L969.2 220.2 L970.0 220.8 L970.8 219.3 L971.7 217.6 L972.5 215.8 L973.3 217.3 L974.2 217.8 L975.0 219.2 L975.8 219.9 L976.7 220.5 L977.5 220.8 L978.3 221.4 L979.2 222.3 L980.0 222.5 L980.8 223.1 L981.7 222.6 L982.5 222.5 L983.3 222.0 L984.2 220.9 L985.0 220.8 L985.8 219.3 L986.7 217.4 L987.5 215.8 L988.3 214.8 L989.2 213.7 L990.0 213.3 L990.8 213.0 L991.7 212.0 L992.5 214.4 L993.3 214.2 L994.2 215.0 L995.0 215.6 L995.8 216.4 L996.7 216.7 L997.5 215.8 L998.3 215.6 L999.2 215.0 L1000.0 215.5 L1000.8 216.3 L1001.7 217.5 L1002.5 217.1 L1003.3 216.5 L1004.2 215.8 L1005.0 214.7 L1005.8 213.2 L1006.7 212.5 L1007.5 211.9 L1008.3 210.5 L1009.2 210.3 L1010.0 211.2 L1010.8 211.0 L1011.7 211.7 L1012.5 210.6 L1013.3 209.9 L1014.2 208.3 L1015.0 207.0 L1015.8 204.3 L1016.7 203.3 L1017.5 202.1 L1018.3 201.3 L1019.2 200.0 L1020.0 199.1 L1020.8 198.1 L1021.7 199.2 L1022.5 200.8 L1023.3 202.5 L1024.2 203.9 L1025.0 205.5 L1025.8 206.7 L1026.7 206.3 L1027.5 205.8 L1028.3 207.3 L1029.2 208.7 L1030.0 210.0 L1030.8 211.4 L1031.7 211.6 L1032.5 212.0 L1033.3 212.3 L1034.2 211.8 L1035.0 212.6 L1035.8 212.0 L1036.7 210.1 L1037.5 208.3 L1038.3 207.1 L1039.2 203.8 L1040.0 203.3 L1040.8 203.0 L1041.7 202.4 L1042.5 202.0 L1043.3 200.4 L1044.2 200.0 L1045.0 198.0 L1045.8 197.8 L1046.7 197.0 L1047.5 196.7 L1048.3 196.1 L1049.2 197.1 L1050.0 195.8 L1050.8 195.1 L1051.7 194.0 L1052.5 192.5 L1053.3 192.9 L1054.2 194.9 L1055.0 195.0 L1055.8 195.6 L1056.7 195.4 L1057.5 195.8 L1058.3 194.9 L1059.2 193.3 L1060.0 193.3 L1060.8 193.0 L1061.7 191.4 L1062.5 191.3 L1063.3 191.4 L1064.2 190.2 L1065.0 190.0 L1065.8 188.5 L1066.7 188.0 L1067.5 186.7 L1068.3 186.5 L1069.2 185.5 L1070.0 185.8 L1070.8 184.4 L1071.7 183.4 L1072.5 181.7 L1073.3 179.4 L1074.2 177.5 L1075.0 174.3 L1075.8 172.5 L1076.7 169.0 L1077.5 165.8 L1078.3 164.8 L1079.2 164.4 L1080.0 164.2 L1080.8 163.1 L1081.7 161.9 L1082.5 160.8 L1083.3 157.8 L1084.2 155.0 L1085.3 149.2" stroke="#0000ff" stroke-width="1.8" fill="none" stroke-linejoin="round"/>
<path d="M60.5 362.0 L64.2 362.0 L64.2 365.3 L67.5 366.7 L69.2 370.8 L74.2 370.0 L75.8 375.8 L79.2 379.2 L81.2 379.5 L81.2 404.2 L84.5 404.2 L85.3 417.0 L90.0 417.0 L93.3 420.8 L95.8 424.2 L98.3 424.2 L98.3 411.7 L102.0 411.7 L102.0 403.7 L105.3 403.7 L105.3 396.2 L108.7 396.2 L108.7 384.7 L111.7 384.7 L111.7 392.5 L115.0 394.2 L118.3 397.5 L122.0 397.8 L122.0 392.5 L125.8 391.7 L125.8 389.5 L129.7 388.3 L130.0 383.0 L133.3 383.0 L136.7 384.7 L142.0 384.7 L142.5 377.5 L146.2 377.0 L146.2 370.0 L149.5 370.0 L149.5 376.3 L153.3 375.8 L153.3 372.5 L156.7 372.0 L157.5 370.0 L159.7 369.7 L159.7 355.8 L164.2 355.3 L164.2 346.7 L167.5 346.3 L167.5 328.3 L173.3 327.5 L173.3 322.5 L180.0 321.7 L180.8 320.0 L187.5 320.0 L187.5 311.7 L190.8 311.2 L190.8 303.3 L195.0 302.8 L197.5 297.5 L200.8 296.7 L201.7 293.3 L205.0 292.8 L205.0 280.0 L208.3 279.2 L208.3 272.5 L216.7 270.0 L217.5 265.6 L218.3 261.2 L219.2 261.7 L220.0 260.3 L220.8 261.2 L221.7 260.5 L222.0 245.3 L222.8 245.1 L223.6 245.1 L224.4 246.2 L225.1 245.2 L225.9 245.1 L226.7 245.4 L227.5 245.0 L228.3 246.9 L229.2 247.5 L230.0 247.4 L230.8 247.6 L231.7 247.2 L232.5 245.9 L233.3 245.5 L234.2 244.7 L235.0 244.2 L235.3 238.3 L236.1 237.0 L236.9 236.4 L237.6 235.7 L238.4 235.9 L239.2 235.5 L240.0 235.4 L240.8 235.4 L241.7 235.7 L242.5 234.9 L243.3 235.7 L244.2 235.9 L245.0 235.8 L245.8 236.3 L246.7 235.5 L247.5 235.9 L248.3 236.2 L248.7 228.3 L249.5 227.0 L250.4 227.7 L251.3 226.6 L252.1 226.9 L253.0 227.5 L253.7 217.5 L254.4 219.2 L255.1 218.5 L255.8 220.8 L255.8 221.5 L256.7 221.0 L257.5 219.8 L258.3 218.5 L259.2 218.0 L260.0 217.1 L260.8 216.5 L261.7 214.8 L262.5 214.0 L263.3 210.1 L264.2 206.6 L265.0 202.8 L265.8 199.8 L266.7 198.4 L267.5 196.6 L268.3 195.7 L269.2 197.6 L270.0 197.4 L270.8 199.8 L271.7 197.8 L272.5 196.5 L273.3 195.7 L274.2 193.7 L275.0 195.0 L275.8 191.8 L276.7 192.3 L277.5 191.9 L278.3 191.5 L279.2 192.4 L280.0 190.1 L280.8 191.5 L281.7 190.7 L282.5 190.9 L283.3 191.8 L284.2 192.2 L285.0 193.2 L285.8 186.5 L286.7 186.0 L287.5 184.2 L288.3 184.0 L289.2 178.2 L290.0 179.0 L290.8 180.0 L291.7 181.7 L292.5 181.5 L293.3 179.5 L294.2 181.0 L295.0 180.0 L295.8 178.6 L296.7 178.2 L297.5 176.9 L298.3 175.1 L299.2 174.0 L300.0 173.7 L300.8 171.6 L301.7 170.1 L302.5 168.9 L303.3 167.6 L304.2 166.5 L305.0 165.8 L305.8 164.8 L306.7 165.8 L307.5 163.1 L308.3 161.5 L309.2 162.9 L310.0 162.3 L310.8 162.7 L311.7 163.2 L312.5 161.1 L313.3 158.5 L314.2 156.2 L315.0 154.0 L315.8 154.0 L316.7 154.1 L317.5 153.1 L318.3 153.2 L319.2 151.0 L320.0 150.2 L320.8 147.5 L321.7 144.6 L322.5 143.2 L323.3 144.0 L324.2 142.3 L325.0 141.2 L325.8 139.0 L326.7 137.1 L327.5 136.4 L328.3 134.2 L329.2 133.2 L330.0 134.0 L330.8 135.4 L331.7 137.3 L332.5 139.0 L333.3 138.4 L334.2 136.3 L335.0 134.5 L335.8 134.0 L336.7 134.7 L337.5 134.7 L338.3 135.5 L339.2 135.3 L340.0 133.4 L340.8 130.0 L341.7 127.4 L342.5 124.8 L343.3 125.2 L344.2 125.0 L345.0 126.5 L345.8 127.3 L346.7 127.0 L347.5 127.3 L348.3 127.0 L349.2 126.8 L350.0 126.3 L350.8 126.5 L351.7 125.2 L352.5 124.6 L353.3 123.5 L354.2 123.2 L355.0 123.5 L355.8 123.4 L356.7 124.8 L357.5 127.7 L358.3 130.3 L359.2 132.3 L360.0 135.7 L361.0 135.2 L362.0 137.3 L362.2 109.8 L362.5 138.2 L363.3 139.8 L364.2 145.2 L365.0 150.7 L365.8 157.1 L366.7 162.3 L367.5 179.0 L368.3 183.0 L369.2 187.6 L370.0 192.3 L370.8 196.6 L371.7 201.9 L372.5 205.6 L373.3 210.7 L373.7 205.7 L374.0 213.7 L374.3 206.5 L374.7 214.8 L375.0 214.0 L375.8 222.1 L376.7 229.2 L377.5 234.4 L378.3 240.5 L379.2 245.4 L380.0 250.8 L380.8 257.9 L381.7 264.5 L382.5 272.5 L383.3 273.8 L384.2 275.7 L385.0 277.5 L385.8 278.4 L386.7 278.7 L387.5 279.2 L388.3 276.3 L389.2 274.4 L390.0 271.7 L390.7 272.6 L391.3 272.5 L391.7 289.2 L392.2 270.8 L393.3 269.2 L394.2 267.7 L395.0 266.2 L395.8 264.9 L396.7 264.3 L397.5 262.5 L398.3 257.8 L399.2 252.5 L400.0 255.8 L400.8 251.4 L401.7 248.3 L402.5 244.2 L403.3 242.0 L404.2 239.9 L405.0 238.3 L405.8 236.2 L406.7 233.2 L407.5 230.0 L408.2 229.3 L408.9 229.5 L409.7 229.2 L410.0 207.5 L410.8 220.8 L411.7 218.2 L412.5 215.0 L413.3 217.1 L414.2 220.0 L414.9 223.0 L415.6 226.5 L416.3 229.2 L416.7 213.3 L417.5 212.9 L418.3 214.6 L419.2 215.0 L420.0 213.7 L420.8 211.7 L421.7 210.8 L422.5 208.6 L423.3 208.3 L424.2 206.5 L425.0 205.8 L425.8 204.7 L426.7 203.2 L427.5 201.6 L428.3 200.0 L429.2 200.2 L430.0 200.9 L430.8 202.3 L431.7 202.5 L432.5 205.8 L433.3 202.8 L434.2 200.8 L435.0 198.9 L435.8 196.7 L436.7 194.2 L437.5 192.3 L438.3 192.1 L439.2 189.2 L440.0 184.2 L440.8 185.4 L441.7 186.7 L442.5 186.2 L443.3 182.2 L444.2 181.7 L445.0 177.4 L445.8 176.1 L446.7 172.5 L447.5 172.3 L448.3 171.2 L449.2 170.8 L450.0 169.1 L450.8 167.5 L451.7 169.4 L452.5 173.3 L453.3 171.6 L454.2 170.0 L455.0 169.2 L455.8 167.8 L456.7 166.7 L457.5 168.0 L458.3 168.3 L459.2 165.6 L460.0 163.0 L460.8 160.0 L461.7 158.8 L462.5 158.3 L463.3 155.6 L464.2 153.3 L465.0 152.5 L465.8 151.7 L466.7 151.9 L467.5 152.5 L468.3 150.4 L469.2 146.5 L470.0 144.2 L470.8 148.1 L471.7 150.0 L472.5 146.1 L473.3 143.3 L474.2 145.0 L475.0 145.1 L475.8 146.7 L476.7 145.9 L477.5 143.3 L478.3 144.2 L479.2 145.2 L480.0 145.8 L480.8 142.8 L481.7 144.2 L482.5 144.4 L483.3 145.1 L484.2 146.7 L485.0 149.3 L485.8 154.2 L486.7 157.6 L487.5 159.3 L488.3 162.5 L489.2 156.7 L490.0 157.2 L490.8 158.3 L491.7 160.8 L492.5 164.4 L493.3 165.8 L494.2 166.0 L495.0 168.2 L495.8 169.2 L496.7 168.4 L497.5 168.3 L498.3 167.5 L499.2 167.1 L500.0 168.4 L500.8 169.2 L501.7 168.6 L502.5 168.0 L503.3 166.2 L504.2 168.0 L505.0 167.7 L505.8 169.2 L506.7 168.0 L507.5 166.6 L508.3 165.5 L509.2 166.1 L510.0 168.3 L510.8 166.1 L511.7 165.5 L512.5 168.6 L513.3 170.8 L514.2 172.1 L515.0 173.0 L515.8 174.2 L516.7 173.6 L517.5 171.7 L518.3 172.8 L519.2 175.3 L520.0 176.7 L520.8 178.3 L521.7 177.2 L522.5 176.4 L523.3 175.0 L524.2 175.9 L525.0 176.7 L525.8 175.8 L526.7 174.9 L527.5 174.8 L528.3 172.8 L529.2 173.2 L530.0 174.5 L530.8 174.8 L531.7 175.0 L532.5 175.6 L533.3 177.1 L534.2 177.0 L535.0 178.3 L535.8 177.3 L536.7 175.0 L537.5 174.7 L538.3 175.0 L539.2 175.5 L540.0 175.5 L540.8 175.8 L541.7 175.7 L542.5 175.0 L543.3 176.3 L544.2 176.5 L545.0 177.0 L545.8 178.6 L546.7 179.2 L547.5 178.7 L548.3 177.4 L549.2 177.8 L550.0 176.7 L550.8 175.9 L551.7 174.5 L552.5 174.2 L553.3 176.3 L554.2 177.3 L555.0 180.0 L555.8 177.4 L556.7 175.8 L557.5 177.5 L558.3 177.9 L559.2 180.2 L560.0 181.7 L560.8 179.8 L561.7 179.8 L562.5 178.3 L563.3 178.1 L564.2 178.8 L565.0 178.0 L565.8 178.8 L566.7 179.2 L567.5 177.7 L568.3 175.5 L569.2 173.3 L570.0 172.0 L570.8 173.2 L571.7 172.8 L572.5 172.0 L573.3 172.8 L574.2 174.8 L575.0 175.0 L575.8 174.4 L576.7 174.9 L577.5 175.6 L578.3 175.0 L578.3 173.8 L579.2 174.8 L580.0 175.0 L580.8 174.5 L581.7 174.8 L582.5 175.3 L583.3 177.2 L584.2 177.0 L585.0 175.5 L585.8 175.8 L586.7 175.5 L587.5 174.4 L588.3 175.4 L589.2 174.9 L590.0 174.2 L590.8 173.6 L591.7 172.5 L592.5 171.7 L593.3 171.1 L594.2 170.5 L595.0 171.3 L595.8 172.6 L596.7 173.3 L597.5 172.7 L598.3 172.1 L599.2 171.2 L600.0 170.7 L600.8 171.8 L601.7 170.5 L602.5 171.3 L603.3 172.6 L604.2 172.5 L605.0 173.6 L605.8 172.8 L606.7 172.8 L607.5 174.2 L608.3 175.9 L609.2 176.0 L610.0 177.3 L610.8 178.3 L611.7 178.8 L612.5 179.6 L613.3 179.5 L614.2 180.8 L615.0 182.4 L615.8 183.9 L616.7 185.8 L617.5 187.5 L618.3 187.9 L619.2 191.3 L620.0 192.5 L620.8 193.5 L621.7 194.2 L622.5 195.4 L623.3 198.2 L624.2 200.8 L625.0 202.7 L625.8 204.9 L626.7 206.4 L627.5 208.3 L628.3 211.0 L629.2 212.2 L630.0 214.2 L630.8 211.5 L631.7 210.0 L632.5 208.5 L633.3 208.2 L634.2 206.7 L635.0 205.1 L635.8 204.2 L636.7 205.2 L637.5 205.8 L638.3 205.8 L639.2 205.3 L640.0 204.7 L640.8 203.2 L641.7 202.5 L642.5 205.0 L643.3 207.5 L644.2 207.4 L645.0 207.6 L645.8 207.3 L646.7 208.3 L647.5 208.6 L648.3 208.8 L649.2 210.0 L650.0 210.0 L650.8 211.7 L651.7 212.5 L652.5 212.2 L653.3 211.2 L654.2 210.8 L655.0 213.8 L655.8 215.8 L656.7 217.5 L657.5 219.2 L658.3 219.4 L659.2 220.8 L660.0 220.6 L660.8 222.4 L661.7 222.9 L662.5 223.3 L663.3 221.2 L664.2 218.3 L665.0 225.8 L665.8 227.3 L666.7 228.3 L667.5 229.6 L668.3 229.3 L669.2 230.0 L670.0 229.8 L670.8 228.4 L671.7 228.3 L672.5 225.7 L673.3 225.3 L674.2 224.2 L675.0 224.1 L675.8 221.6 L676.7 221.7 L677.5 225.5 L678.3 228.3 L679.2 226.6 L680.0 225.3 L680.8 224.2 L681.7 225.6 L682.5 227.0 L683.3 228.3 L684.2 227.2 L685.0 227.3 L685.8 226.7 L686.7 222.5 L687.5 221.9 L688.3 221.3 L689.2 220.0 L690.0 219.9 L690.8 221.4 L691.7 220.8 L692.5 221.6 L693.3 221.6 L694.2 220.0 L695.0 219.5 L695.8 220.6 L696.7 220.8 L697.5 221.9 L698.3 225.0 L699.2 224.6 L700.0 224.2 L700.8 223.3 L701.7 223.9 L702.5 225.8 L703.3 222.4 L704.2 220.8 L705.0 218.7 L705.8 216.7 L706.7 214.2 L707.5 213.4 L708.3 213.5 L709.2 213.3 L710.0 210.8 L710.8 210.7 L711.7 210.0 L712.5 208.8 L713.3 207.5 L714.2 206.5 L715.0 206.1 L715.8 204.2 L716.7 202.4 L717.5 200.7 L718.3 200.8 L719.2 200.0 L720.0 198.3 L720.8 197.5 L721.7 197.4 L722.5 197.3 L723.3 196.7 L724.2 196.2 L725.0 195.8 L725.8 194.2 L726.7 192.4 L727.5 189.2 L728.3 188.0 L729.2 188.6 L730.0 188.3 L730.8 187.8 L731.7 185.0 L732.5 185.3 L733.3 186.6 L734.2 186.7 L735.0 186.1 L735.8 185.3 L736.7 185.0 L737.5 185.6 L738.3 185.0 L739.2 184.2 L740.0 183.2 L740.8 183.0 L741.7 181.7 L742.5 179.8 L743.3 179.0 L744.2 178.3 L745.0 176.3 L745.8 173.3 L746.7 170.4 L747.5 167.5 L748.3 166.1 L749.2 166.1 L750.0 165.0 L750.8 164.3 L751.7 164.0 L752.5 162.5 L753.3 162.7 L754.2 161.8 L755.0 161.7 L755.8 161.7 L756.7 162.1 L757.5 162.5 L758.3 163.2 L759.2 165.0 L760.0 165.0 L760.0 166.7 L760.8 167.3 L761.7 167.0 L762.5 166.2 L763.3 165.8 L764.2 165.1 L765.0 165.2 L765.8 164.2 L766.7 163.9 L767.5 164.1 L768.3 163.8 L769.2 163.6 L770.0 164.9 L770.8 165.8 L771.7 166.2 L772.5 164.4 L773.3 164.5 L774.2 163.4 L775.0 163.8 L775.8 164.5 L776.7 163.3 L777.5 164.4 L778.3 163.7 L779.2 163.9 L780.0 164.5 L780.8 165.1 L781.7 165.4 L782.5 166.7 L783.3 167.2 L784.2 167.6 L785.0 168.3 L785.8 167.5 L786.7 168.0 L787.5 168.3 L788.3 169.1 L789.2 169.7 L790.0 171.2 L790.8 171.1 L791.7 172.8 L792.5 172.8 L793.3 174.1 L794.2 173.2 L795.0 173.3 L795.8 173.8 L796.7 174.3 L797.5 174.0 L798.3 173.9 L799.2 174.5 L800.0 176.0 L800.8 175.4 L801.7 176.7 L802.5 176.0 L803.3 175.7 L804.2 175.8 L804.9 174.8 L805.6 174.6 L806.3 174.2 L807.3 176.0 L808.3 177.2 L809.2 178.7 L810.0 178.9 L810.8 179.3 L811.7 180.0 L812.5 179.4 L813.3 180.2 L814.2 179.8 L815.0 180.5 L815.8 180.0 L816.7 180.2 L817.5 179.3 L818.3 178.8 L819.2 179.2 L820.0 179.4 L820.8 180.3 L821.7 180.8 L822.5 180.3 L823.3 179.2 L824.2 179.2 L825.0 177.8 L825.8 177.4 L826.7 175.8 L827.5 175.5 L828.3 176.7 L829.2 177.5 L830.0 178.0 L830.8 180.6 L831.7 180.8 L832.5 181.4 L833.3 181.7 L834.2 181.7 L835.0 189.2 L835.8 202.5 L836.7 207.7 L837.5 212.5 L838.3 217.6 L839.2 222.5 L840.0 226.8 L840.8 230.8 L841.7 232.4 L842.5 235.8 L843.3 236.8 L844.2 237.8 L845.0 238.3 L845.8 237.1 L846.7 237.9 L847.5 237.4 L848.3 236.7 L849.2 234.4 L850.0 233.6 L850.8 232.5 L851.7 231.2 L852.5 230.0 L853.3 229.2 L854.2 226.9 L855.0 224.2 L855.8 222.6 L856.7 222.4 L857.5 221.7 L858.3 220.4 L859.2 219.3 L860.0 217.5 L860.8 215.0 L861.7 212.5 L862.5 210.4 L863.3 209.0 L864.2 206.7 L865.0 203.6 L865.8 203.3 L866.7 200.8 L867.5 198.7 L868.3 196.2 L869.2 195.0 L870.0 193.1 L870.8 190.6 L871.7 190.0 L872.5 187.2 L873.3 186.5 L874.2 185.0 L875.0 183.7 L875.8 183.7 L876.7 182.5 L877.7 181.2 L878.7 180.8 L879.4 177.9 L880.1 175.8 L880.8 174.2 L881.7 171.8 L882.5 167.5 L883.3 165.4 L884.2 163.3 L885.0 162.6 L885.8 162.0 L886.7 162.2 L887.5 161.1 L888.3 161.2 L889.2 160.8 L890.0 159.1 L890.8 157.6 L891.7 155.0 L892.5 154.8 L893.3 153.5 L894.2 152.5 L895.0 151.5 L895.8 150.7 L896.7 150.5 L897.5 149.6 L898.3 150.7 L899.2 151.7 L900.0 151.3 L900.8 150.4 L901.7 150.0 L902.5 149.5 L903.3 147.8 L904.2 147.8 L905.0 149.0 L905.8 149.4 L906.7 150.0 L907.5 149.5 L908.3 149.1 L909.2 148.3 L910.0 146.0 L910.8 145.8 L911.7 145.0 L912.5 143.4 L913.3 143.8 L914.2 141.7 L915.0 141.1 L915.8 140.8 L916.7 143.5 L917.5 146.7 L918.3 145.9 L919.2 144.2 L920.0 145.0 L920.8 147.7 L921.7 148.3 L922.5 147.4 L923.3 147.2 L924.2 146.7 L925.0 145.6 L925.8 146.0 L926.7 145.0 L927.5 145.9 L928.3 149.2 L929.2 150.4 L930.0 150.4 L930.8 151.7 L931.7 151.1 L932.5 149.9 L933.3 150.0 L934.2 149.7 L935.0 149.2 L935.8 151.8 L936.7 154.2 L937.5 155.6 L938.3 156.5 L939.2 157.5 L940.0 160.3 L940.8 162.5 L941.7 163.5 L942.5 163.3 L943.3 160.9 L944.2 158.2 L945.0 156.7 L945.8 155.1 L946.7 155.4 L947.5 154.2 L948.3 153.3 L949.2 152.8 L950.0 151.7 L950.8 151.7 L951.7 150.6 L952.5 150.0 L953.3 150.5 L954.2 152.7 L955.0 153.3 L955.8 155.1 L956.7 154.7 L957.5 155.5 L958.3 153.7 L959.2 152.5 L960.0 151.7 L960.8 152.7 L961.7 152.4 L962.5 153.3 L963.3 152.2 L964.2 151.8 L965.0 150.5 L965.8 151.2 L966.7 151.9 L967.5 152.5 L968.3 152.5 L969.2 152.7 L970.0 153.3 L970.8 151.7 L971.7 150.1 L972.5 148.3 L973.3 149.8 L974.2 150.3 L975.0 151.7 L975.8 152.4 L976.7 153.0 L977.5 153.3 L978.3 153.9 L979.2 154.7 L980.0 155.0 L980.8 155.5 L981.7 155.1 L982.5 155.0 L983.3 154.5 L984.2 153.3 L985.0 153.3 L985.8 151.8 L986.7 149.9 L987.5 148.3 L988.3 147.3 L989.2 146.2 L990.0 145.8 L990.8 145.5 L991.7 144.5 L992.5 146.9 L993.3 146.7 L994.2 147.5 L995.0 148.1 L995.8 148.8 L996.7 149.2 L997.5 148.3 L998.3 148.1 L999.2 147.5 L1000.0 148.0 L1000.8 148.8 L1001.7 150.0 L1002.5 149.6 L1003.3 149.0 L1004.2 148.3 L1005.0 147.1 L1005.8 145.7 L1006.7 145.0 L1007.5 144.4 L1008.3 142.9 L1009.2 142.8 L1010.0 143.7 L1010.8 143.5 L1011.7 144.2 L1012.5 143.0 L1013.3 142.4 L1014.2 140.8 L1015.0 139.5 L1015.8 136.8 L1016.7 135.8 L1017.5 134.6 L1018.3 133.8 L1019.2 132.5 L1020.0 131.6 L1020.8 130.6 L1021.7 131.7 L1022.5 133.3 L1023.3 135.0 L1024.2 136.4 L1025.0 138.0 L1025.8 139.2 L1026.7 138.8 L1027.5 138.3 L1028.3 139.8 L1029.2 141.2 L1030.0 142.5 L1030.8 143.9 L1031.7 144.1 L1032.5 144.5 L1033.3 144.8 L1034.2 144.3 L1035.0 145.1 L1035.8 144.5 L1036.7 142.6 L1037.5 140.8 L1038.3 139.6 L1039.2 136.3 L1040.0 135.8 L1040.8 135.5 L1041.7 134.9 L1042.5 134.5 L1043.3 132.9 L1044.2 132.5 L1045.0 130.5 L1045.8 130.3 L1046.7 129.5 L1047.5 129.2 L1048.3 128.6 L1049.2 129.6 L1050.0 128.3 L1050.8 127.6 L1051.7 126.5 L1052.5 125.0 L1053.3 125.4 L1054.2 127.4 L1055.0 127.5 L1055.8 128.1 L1056.7 127.9 L1057.5 128.3 L1058.3 127.4 L1059.2 125.8 L1060.0 125.8 L1060.8 125.5 L1061.7 123.9 L1062.5 123.8 L1063.3 123.8 L1064.2 122.7 L1065.0 122.5 L1065.8 121.0 L1066.7 120.5 L1067.5 119.2 L1068.3 119.0 L1069.2 118.0 L1070.0 118.3 L1070.8 116.9 L1071.7 115.9 L1072.5 114.2 L1073.3 111.9 L1074.2 110.0 L1075.0 106.8 L1075.8 105.0 L1076.7 101.5 L1077.5 98.3 L1078.3 97.2 L1079.2 96.9 L1080.0 96.7 L1080.8 95.6 L1081.7 94.4 L1082.5 93.3 L1083.3 90.3 L1084.2 87.5 L1085.3 81.7" stroke="#0000ff" stroke-width="1.8" fill="none" stroke-linejoin="round"/>
<path d="M46.67 365.0 L47.16 358.6 L47.66 364.4 L48.17 359.7 L48.67 360.5 L49.17 358.3 L49.75 361.4 L50.24 367.5 L50.83 369.2 L51.31 370.2 L51.85 382.8 L52.50 380.0 L53.14 380.1 L53.61 394.4 L54.06 393.9 L54.67 405.8 L55.08 402.4 L55.60 397.9 L56.16 395.1 L56.67 390.0 L57.15 384.3 L57.69 389.1 L58.17 379.3 L58.67 379.2 L59.16 381.9 L59.85 377.7 L60.33 382.4 L60.83 383.3 L61.35 384.7 L61.86 388.9 L62.50 388.3 L63.05 385.4 L63.48 395.0 L64.09 393.3 L64.44 395.1 L65.00 396.7 L65.58 389.0 L65.98 402.5 L66.41 398.5 L66.95 409.1 L67.50 406.7 L67.96 402.1 L68.63 409.2 L69.05 402.3 L69.67 400.8 L70.08 405.0 L70.73 403.2 L71.16 412.3 L71.67 410.0 L72.02 409.9 L72.50 410.0 L73.08 418.5 L73.53 419.5 L74.17 428.3 L74.70 443.2 L75.33 455.0 L75.83 433.3 L76.48 431.3 L77.02 432.4 L77.50 429.2 L77.94 423.5 L78.53 429.4 L78.92 422.8 L79.45 423.3 L80.00 421.7 L80.55 420.7 L80.91 421.6 L81.42 419.4 L82.02 420.1 L82.50 419.2 L83.03 411.0 L83.61 417.8 L84.17 414.2 L84.74 415.0 L85.21 421.0 L85.83 421.7 L86.42 420.6 L86.77 421.3 L87.38 418.8 L87.92 419.3 L88.33 418.3 L88.97 418.2 L89.37 428.4 L90.00 429.2 L90.46 428.9 L91.15 432.3 L91.67 433.3 L92.17 427.9 L92.74 433.0 L93.33 425.0 L93.94 418.0 L94.67 411.7 L95.11 414.4 L95.68 412.6 L96.12 419.9 L96.67 418.3 L97.31 416.2 L97.73 415.0 L98.33 412.5 L98.82 412.3 L99.31 413.8 L99.85 413.2 L100.41 415.3 L100.83 415.0 L101.51 407.9 L102.00 408.3 L102.56 416.0 L103.01 412.6 L103.71 416.0 L104.17 418.3 L104.76 420.8 L105.31 425.2 L105.83 428.3 L106.39 426.1 L107.04 427.1 L107.50 422.5 L107.97 420.5 L108.69 434.6 L109.17 437.5 L109.63 442.3 L110.00 451.7 L110.58 456.2 L110.97 443.5 L111.57 452.7 L111.98 440.3 L112.50 440.0 L113.07 452.0 L113.64 442.3 L114.17 450.0 L114.74 459.6 L115.19 452.0 L115.83 466.7 L116.45 482.4 L116.96 470.6 L117.47 485.8 L118.00 485.8 L118.57 476.9 L119.17 470.0 L119.77 467.7 L120.18 458.1 L120.83 458.3 L121.28 458.6 L121.87 453.0 L122.42 454.9 L122.78 451.8 L123.33 452.5 L123.92 456.4 L124.38 455.0 L125.00 463.3 L125.59 466.3 L126.10 459.0 L126.67 459.2 L127.26 458.9 L127.72 449.0 L128.33 452.5 L128.97 459.0 L129.52 454.2 L130.00 461.7 L130.52 467.0 L131.04 459.4 L131.67 468.3 L132.29 470.1 L132.82 469.6 L133.33 473.3 L133.77 478.8 L134.32 481.6 L134.82 489.5 L135.33 490.8 L136.03 480.7 L136.67 478.3 L137.29 476.2 L137.87 472.6 L138.33 471.7 L138.80 469.9 L139.52 461.9 L140.00 465.0 L140.51 463.9 L140.96 458.9 L141.43 457.1 L142.00 453.3 L142.53 442.1 L143.03 448.8 L143.55 438.5 L144.17 441.7 L144.66 441.0 L145.19 433.5 L145.76 440.8 L146.20 431.7 L146.67 430.8 L147.16 436.8 L147.68 429.8 L148.33 437.5 L148.77 436.9 L149.29 433.3 L149.84 436.8 L150.36 432.7 L150.83 431.7 L151.39 432.6 L151.91 425.9 L152.38 431.0 L152.76 425.1 L153.33 426.7 L153.97 425.9 L154.42 415.7 L155.00 420.0 L155.61 420.5 L156.20 417.2 L156.67 418.3 L157.11 417.3 L157.71 411.2 L158.21 416.6 L158.61 399.8 L159.17 406.7 L159.76 408.0 L160.17 405.8 L160.75 406.5 L161.24 405.1 L161.67 405.0 L162.15 405.5 L162.68 405.2 L163.07 406.5 L163.73 404.2 L164.17 405.8 L164.66 406.1 L165.24 401.5 L165.83 400.0 L166.32 398.5 L166.95 390.8 L167.50 388.3 L168.09 393.5 L168.70 370.7 L169.17 378.3 L169.58 377.5 L170.11 374.8 L170.71 375.6 L171.19 370.7 L171.67 373.3 L172.23 374.6 L172.74 372.8 L173.33 375.8 L173.97 377.4 L174.39 369.5 L175.00 371.7 L175.56 385.1 L176.13 377.8 L176.67 383.3 L177.17 385.6 L177.69 369.2 L178.17 378.6 L178.65 373.1 L179.17 372.5 L179.66 376.8 L180.20 372.4 L180.65 377.7 L181.26 376.1 L181.67 379.2 L182.22 386.9 L182.70 383.8 L183.33 397.5 L183.97 395.6 L184.44 385.7 L185.00 381.7 L185.58 384.9 L186.20 381.8 L186.67 386.7 L187.07 388.4 L187.61 383.5 L188.13 386.3 L188.64 380.5 L189.17 380.0 L189.77 382.5 L190.20 381.3 L190.83 385.0 L191.27 386.5 L191.84 385.5 L192.32 389.9 L192.84 389.5 L193.33 391.7 L193.86 391.8 L194.36 386.0 L194.86 389.4 L195.40 387.3 L195.83 386.7 L196.40 388.8 L196.91 384.0 L197.42 385.2 L197.78 378.7 L198.33 381.7 L198.76 380.4 L199.28 378.7 L199.75 379.5 L200.40 372.6 L200.83 375.0 L201.26 375.9 L201.81 370.7 L202.27 369.6 L202.87 359.2 L203.33 365.0 L203.81 368.2 L204.45 359.2 L205.00 356.7 L205.54 358.2 L205.94 353.0 L206.41 353.2 L207.01 348.2 L207.50 350.0 L207.93 350.8 L208.44 350.6 L209.10 354.6 L209.59 352.2 L210.00 353.3 L210.59 352.3 L210.99 349.8 L211.49 351.0 L212.00 343.0 L212.50 345.0 L212.90 345.1 L213.54 342.8 L213.99 343.4 L214.55 340.8 L215.00 340.8 L215.49 340.4 L216.11 334.6 L216.67 337.5 L217.28 340.8 L217.82 339.0 L218.33 345.0 L218.81 347.2 L219.35 342.3 L219.89 347.1 L220.28 345.7 L220.83 348.3 L221.39 351.0 L221.90 347.0 L222.41 353.6 L222.87 352.0 L223.33 353.3 L223.87 356.8 L224.49 353.7 L225.00 355.8 L225.49 355.5 L225.90 351.6 L226.52 354.8 L226.95 348.2 L227.50 350.0 L227.97 350.2 L228.53 348.2 L228.98 349.5 L229.60 347.7 L230.00 348.3 L230.47 355.7 L230.83 352.5 L231.48 344.6 L231.99 348.3 L232.50 345.0 L232.95 341.6 L233.44 341.1 L233.98 335.5 L234.58 337.5 L235.00 333.3 L235.57 329.5 L236.12 335.8 L236.67 336.7 L237.27 330.5 L237.58 337.5 L238.19 330.6 L238.75 329.7 L239.17 326.7 L239.65 325.4 L240.28 325.7 L240.83 325.0 L241.41 319.3 L241.93 337.8 L242.50 338.3 L243.01 334.4 L243.46 336.6 L244.03 331.1 L244.54 332.6 L245.00 330.0 L245.51 328.5 L246.02 329.0 L246.67 328.3 L247.15 325.4 L247.86 327.1 L248.33 320.0 L248.88 307.1 L249.42 319.2 L249.75 310.2 L250.33 313.6 L250.83 309.2 L251.48 306.5 L252.03 308.9 L252.50 301.7 L253.10 297.6 L253.67 304.9 L254.17 305.0 L254.74 300.5 L255.27 304.2 L255.83 300.0 L256.27 298.8 L256.76 302.7 L257.32 302.0 L257.79 305.8 L258.33 305.0 L258.91 295.1 L259.45 302.7 L260.00 295.8 L260.60 291.3 L260.95 294.5 L261.42 289.4 L262.02 293.5 L262.50 290.0 L263.03 285.7 L263.62 290.1 L264.17 280.0 L264.60 273.1 L265.00 275.8 L265.49 287.3 L266.06 277.6 L266.67 293.3 L267.30 296.5 L267.69 295.2 L268.33 300.0 L268.90 309.7 L269.50 316.7 L270.19 304.7 L270.83 301.7 L271.25 302.1 L271.75 297.6 L272.36 300.4 L272.81 294.7 L273.33 295.0 L273.80 294.2 L274.38 292.6 L274.76 292.6 L275.40 288.7 L275.83 290.0 L276.28 291.0 L276.82 288.5 L277.31 290.6 L277.86 286.1 L278.33 286.7 L278.90 289.1 L279.49 287.9 L280.00 293.3 L280.47 293.2 L280.92 289.2 L281.42 289.2 L282.01 282.2 L282.50 285.0 L282.96 284.0 L283.56 280.8 L284.03 281.8 L284.42 278.4 L285.00 278.3 L285.54 279.7 L285.96 276.6 L286.55 277.7 L286.97 274.9 L287.50 275.8 L288.01 277.2 L288.58 267.3 L288.99 273.5 L289.56 269.0 L290.00 268.3 L290.48 268.9 L291.09 265.2 L291.47 266.2 L291.97 263.1 L292.50 263.3 L293.03 268.2 L293.55 262.0 L294.17 270.0 L294.73 270.2 L295.35 262.0 L295.83 261.7 L296.39 260.9 L296.91 258.9 L297.34 258.2 L297.84 250.6 L298.33 255.0 L299.03 268.2 L299.67 271.7 L300.31 261.5 L300.83 261.7 L301.45 260.6 L301.86 248.6 L302.50 251.7 L303.08 252.2 L303.42 248.5 L304.05 249.1 L304.53 247.0 L305.00 245.8 L305.55 246.2 L306.00 244.7 L306.47 245.5 L307.09 243.2 L307.50 243.3 L308.01 244.1 L308.54 242.1 L308.98 244.5 L309.57 241.0 L310.00 241.7 L310.62 247.9 L311.18 239.8 L311.67 246.7 L312.19 251.1 L312.67 239.0 L313.15 246.0 L313.65 230.8 L314.17 232.5 L314.82 242.0 L315.25 238.2 L315.83 243.3 L316.37 253.2 L316.90 256.2 L317.50 265.0 L317.88 257.8 L318.33 250.0 L318.81 246.9 L319.38 250.4 L320.00 246.7 L320.47 237.0 L321.19 240.4 L321.67 235.0 L322.13 229.4 L322.72 230.1 L323.33 225.0 L323.84 225.8 L324.39 230.8 L325.00 229.2 L325.60 224.0 L326.33 220.0 L326.97 228.6 L327.50 231.7 L328.02 228.6 L328.61 236.5 L329.17 236.7 L329.67 226.6 L330.25 237.4 L330.83 228.3 L331.40 227.8 L331.89 238.6 L332.50 241.7 L332.97 237.9 L333.59 248.2 L334.17 248.3 L334.76 256.4 L335.33 271.7 L336.10 263.7 L336.67 255.0 L337.25 258.8 L337.77 263.4 L338.33 266.7 L338.97 255.0 L339.67 247.5 L340.24 261.3 L340.71 259.2 L341.33 268.3 L341.84 266.6 L342.52 252.0 L343.00 253.3 L343.60 252.4 L343.95 249.6 L344.55 249.9 L345.00 248.3 L345.46 244.4 L346.18 249.7 L346.67 243.3 L347.08 241.4 L347.59 244.5 L348.16 232.5 L348.67 237.5 L349.35 243.4 L350.00 245.0 L350.63 245.7 L351.09 259.2 L351.67 255.0 L352.31 251.0 L352.72 264.9 L353.33 263.3 L353.90 263.6 L354.51 269.3 L355.00 271.7 L355.52 272.5 L356.07 274.6 L356.67 275.0 L357.22 276.5 L357.82 282.7 L358.33 281.7 L358.81 280.6 L359.54 290.2 L360.00 290.0 L360.62 293.5 L361.09 298.4 L361.67 301.7 L362.26 303.5 L362.77 310.6 L363.33 308.3 L363.65 303.3 L364.17 312.0 L364.17 348.3 L364.52 357.1 L365.00 365.0 L365.44 374.7 L365.83 386.7 L366.26 380.9 L366.67 366.7 L367.04 390.2 L367.50 418.3 L367.95 408.0 L368.33 390.0 L368.95 404.4 L369.67 423.3 L370.22 418.6 L370.83 400.0 L371.51 381.7 L372.00 376.7 L372.63 386.1 L373.33 390.0 L373.82 382.9 L374.17 380.0 L374.67 389.7 L375.33 396.7 L376.04 405.1 L376.67 415.0 L377.31 413.6 L378.00 406.7 L378.65 399.6 L379.17 395.8 L379.53 412.3 L380.00 426.7 L380.60 433.4 L381.33 446.7 L381.83 443.2 L382.50 433.3 L383.17 418.5 L383.67 413.3 L384.36 409.1 L385.00 400.0 L385.61 394.7 L386.08 397.3 L386.67 390.0 L387.20 381.6 L387.82 382.7 L388.33 378.3 L388.99 371.1 L389.47 373.6 L390.00 361.7 L390.46 358.8 L391.14 360.5 L391.67 356.7 L392.14 355.1 L392.84 356.6 L393.33 355.0 L393.82 358.0 L394.17 365.0 L394.78 366.4 L395.36 365.3 L395.83 367.5 L396.25 360.0 L396.67 350.0 L397.15 343.7 L397.78 356.2 L398.33 340.0 L398.33 333.3 L398.93 331.6 L399.53 332.2 L400.00 330.0 L400.58 326.6 L401.06 326.2 L401.67 321.7 L402.24 319.2 L402.86 320.6 L403.33 316.7 L403.86 312.7 L404.54 312.6 L405.00 310.0 L405.48 306.9 L406.12 309.1 L406.67 306.7 L407.23 310.8 L407.88 326.5 L408.33 321.7 L408.95 315.1 L409.51 313.6 L410.00 307.5 L410.51 307.6 L411.13 312.8 L411.67 313.3 L412.29 309.4 L412.69 312.9 L413.33 306.7 L413.80 304.5 L414.53 320.5 L415.00 313.3 L415.59 306.5 L416.16 310.7 L416.67 300.0 L417.20 297.6 L417.68 313.3 L418.33 313.3 L418.83 315.9 L419.42 323.8 L420.00 328.3 L420.57 324.2 L421.06 327.7 L421.67 321.7 L422.18 316.1 L422.57 322.1 L423.20 307.4 L423.67 311.7 L424.24 317.5 L424.77 301.0 L425.33 303.3 L425.93 303.6 L426.50 301.1 L427.00 300.0 L427.65 307.8 L428.18 302.8 L428.67 308.3 L429.32 317.8 L430.00 320.0 L430.57 322.1 L431.12 336.4 L431.67 340.0 L432.07 340.9 L432.50 348.3 L432.97 342.8 L433.66 326.9 L434.17 325.0 L434.77 337.6 L435.33 341.7 L436.05 335.5 L436.67 333.3 L437.14 334.6 L437.70 319.4 L438.33 320.0 L438.98 318.3 L439.67 313.3 L440.13 314.8 L440.73 325.2 L441.33 323.3 L441.88 323.7 L442.50 328.3 L442.97 325.9 L443.69 312.9 L444.17 315.0 L444.80 313.1 L445.26 307.2 L445.83 305.0 L446.44 304.7 L446.96 296.6 L447.50 295.0 L448.11 296.6 L448.54 292.7 L449.17 298.3 L449.65 296.8 L450.33 290.0 L450.84 292.1 L451.36 300.5 L452.00 300.0 L452.58 301.5 L453.00 306.7 L453.53 306.9 L454.13 297.8 L454.67 295.0 L455.25 294.3 L455.63 289.5 L456.26 292.5 L456.67 291.7 L457.22 290.1 L457.86 291.0 L458.33 288.3 L458.97 284.9 L459.42 289.8 L460.00 283.3 L460.55 281.0 L461.21 284.4 L461.67 280.8 L462.16 281.3 L462.85 285.5 L463.33 285.8 L463.80 284.3 L464.41 298.6 L465.00 298.3 L465.50 286.8 L465.83 285.0 L466.32 286.8 L466.98 277.0 L467.50 278.3 L467.97 279.4 L468.56 278.8 L469.17 280.0 L469.69 282.9 L470.33 272.5 L470.94 276.5 L471.67 281.7 L472.28 285.6 L472.75 281.8 L473.33 285.0 L473.91 295.4 L474.39 287.4 L475.00 293.3 L475.59 299.8 L476.07 285.4 L476.67 283.3 L477.32 288.7 L477.77 285.7 L478.33 295.0 L478.91 290.6 L479.67 284.2 L480.27 293.8 L480.83 305.0 L481.31 316.7 L481.67 321.7 L482.14 317.3 L482.73 323.2 L483.33 313.3 L483.84 314.5 L484.52 322.0 L485.00 325.0 L485.65 326.2 L486.16 338.3 L486.67 343.3 L487.31 342.3 L488.00 350.8 L488.52 340.2 L489.17 325.0 L489.76 314.5 L490.33 309.2 L491.03 319.6 L491.67 323.3 L492.28 325.5 L492.85 338.9 L493.33 345.8 L493.93 330.7 L494.38 338.9 L495.00 333.3 L495.72 333.7 L496.33 340.0 L496.86 339.5 L497.50 328.3 L498.04 323.3 L498.67 328.4 L499.17 316.7 L499.67 312.0 L500.29 312.4 L500.83 310.0 L501.39 304.8 L501.99 307.5 L502.50 305.0 L503.07 304.3 L503.54 304.9 L504.17 304.2 L504.63 302.9 L505.27 303.6 L505.83 303.3 L506.34 304.0 L507.03 305.6 L507.50 305.8 L508.07 301.8 L508.56 315.2 L509.17 316.7 L509.65 315.3 L510.24 315.0 L510.83 313.3 L511.41 313.7 L511.96 321.7 L512.50 325.0 L512.97 328.8 L513.56 337.5 L514.17 340.0 L514.52 340.2 L515.00 346.7 L515.61 350.1 L516.02 334.2 L516.67 333.3 L517.03 332.3 L517.50 326.7 L518.15 325.0 L518.66 334.7 L519.17 336.7 L519.85 329.4 L520.33 328.3 L521.05 328.8 L521.67 321.7 L522.13 320.0 L522.71 323.7 L523.33 317.5 L523.87 316.2 L524.36 317.4 L525.00 315.0 L525.46 305.9 L526.16 310.2 L526.67 307.5 L527.17 309.9 L527.73 317.5 L528.33 315.0 L528.88 309.7 L529.41 311.9 L530.00 308.3 L530.65 309.4 L531.09 312.2 L531.67 313.3 L532.25 312.4 L532.82 320.3 L533.33 321.7 L533.96 311.3 L534.44 321.0 L535.00 313.3 L535.53 308.2 L536.17 311.3 L536.67 305.0 L537.17 301.5 L537.79 302.4 L538.33 298.3 L538.82 296.8 L539.44 297.4 L540.00 295.0 L540.52 289.6 L541.15 294.9 L541.67 292.5 L542.29 292.7 L542.69 294.7 L543.33 294.2 L543.93 294.4 L544.35 298.3 L545.00 298.3 L545.49 295.8 L546.20 297.4 L546.67 291.7 L547.27 293.5 L547.71 299.4 L548.33 298.3 L548.98 293.8 L549.49 298.5 L550.00 293.3 L550.64 289.9 L551.09 290.8 L551.67 289.2 L552.14 286.3 L552.83 287.8 L553.33 285.0 L553.89 283.9 L554.39 290.6 L555.00 291.7 L555.46 291.0 L556.02 302.0 L556.67 300.0 L557.30 301.7 L558.00 313.3 L558.51 309.3 L559.17 300.0 L559.76 297.4 L560.31 301.2 L560.83 293.3 L561.32 291.8 L561.99 292.6 L562.50 290.0 L563.04 288.7 L563.56 292.7 L564.17 291.7 L564.68 292.7 L565.19 299.7 L565.83 300.0 L566.29 292.7 L567.01 297.6 L567.50 290.0 L568.15 286.2 L568.69 290.5 L569.17 283.3 L569.67 281.2 L570.37 283.7 L570.83 280.0 L571.46 278.0 L571.86 280.5 L572.50 275.0 L573.04 275.6 L573.59 277.6 L574.17 278.3 L574.69 276.3 L575.21 276.7 L575.83 275.8 L576.37 276.2 L576.98 282.4 L577.50 285.0 L578.00 278.2 L578.60 280.6 L579.17 275.0 L579.51 273.0 L580.00 274.2 L580.68 278.4 L581.33 278.3 L581.93 277.8 L582.42 286.8 L583.00 290.0 L583.47 285.4 L584.11 284.2 L584.67 280.0 L585.24 276.0 L585.73 277.1 L586.33 275.0 L586.79 273.0 L587.46 285.5 L588.00 281.7 L588.51 277.9 L589.10 278.9 L589.67 274.2 L590.25 273.5 L590.79 276.9 L591.33 277.5 L591.98 275.3 L592.47 277.9 L593.00 272.5 L593.48 271.3 L594.07 272.1 L594.58 269.5 L595.00 270.8 L595.41 272.3 L595.93 268.3 L596.47 268.9 L597.10 267.6 L597.50 267.5 L597.95 267.6 L598.54 266.2 L599.01 265.6 L599.48 264.7 L600.00 264.2 L600.59 267.5 L601.12 264.7 L601.67 267.5 L602.29 268.1 L602.87 265.1 L603.33 265.0 L603.97 271.6 L604.41 269.6 L605.00 274.2 L605.59 277.6 L606.20 268.1 L606.67 266.7 L607.25 269.3 L607.78 267.4 L608.33 270.8 L608.85 275.2 L609.49 273.3 L610.00 279.2 L610.51 284.6 L611.08 286.2 L611.67 293.3 L612.15 295.2 L612.69 285.9 L613.33 285.0 L613.93 284.7 L614.37 281.9 L615.00 283.3 L615.55 283.3 L616.04 279.6 L616.67 280.8 L617.08 291.6 L617.62 280.7 L618.15 293.1 L618.67 296.7 L619.38 292.8 L620.00 289.2 L620.52 299.4 L621.08 294.8 L621.67 298.3 L622.29 303.6 L622.79 285.5 L623.33 288.3 L623.91 289.8 L624.51 289.2 L625.00 290.0 L625.53 289.3 L626.14 284.1 L626.67 281.7 L627.12 286.1 L627.79 277.4 L628.33 288.3 L628.93 288.5 L629.67 280.0 L630.26 276.5 L630.76 279.1 L631.33 276.7 L631.98 274.6 L632.49 273.9 L633.00 272.5 L633.48 270.5 L634.16 271.2 L634.67 270.0 L635.32 269.9 L635.68 275.8 L636.33 275.8 L636.90 274.8 L637.41 280.0 L638.00 281.7 L638.62 278.8 L639.09 280.2 L639.67 276.7 L640.25 280.4 L640.76 299.3 L641.33 291.7 L641.93 281.4 L642.37 288.3 L643.00 283.3 L643.49 279.2 L644.06 292.9 L644.67 290.0 L645.22 288.7 L645.68 289.6 L646.33 288.3 L646.76 296.1 L647.17 311.7 L647.70 313.3 L648.33 306.7 L648.95 306.2 L649.67 310.0 L650.20 315.9 L650.83 320.8 L651.33 304.2 L652.00 305.0 L652.63 305.3 L653.33 298.3 L653.80 297.6 L654.54 298.8 L655.00 297.5 L655.50 297.1 L656.09 304.0 L656.67 303.3 L657.28 302.8 L657.79 303.0 L658.33 302.5 L658.92 304.1 L659.53 313.4 L660.00 315.0 L660.63 309.0 L661.18 310.7 L661.67 308.3 L662.27 313.4 L662.71 320.4 L663.33 325.0 L663.67 328.3 L664.17 339.2 L664.80 334.8 L665.33 326.7 L665.80 332.3 L666.33 339.2 L666.86 334.6 L667.50 330.0 L668.15 320.6 L668.67 322.6 L669.17 318.3 L669.78 316.1 L670.34 317.6 L670.83 312.5 L671.45 312.8 L671.86 318.6 L672.50 315.0 L673.15 305.6 L673.56 311.8 L674.17 304.2 L674.80 302.1 L675.22 308.7 L675.83 310.0 L676.37 308.6 L677.01 319.2 L677.50 317.5 L678.03 311.2 L678.57 313.5 L679.17 306.7 L679.83 312.0 L680.33 319.2 L680.97 325.1 L681.67 327.5 L682.38 318.6 L683.00 313.3 L683.56 316.7 L684.15 308.2 L684.67 306.7 L685.15 307.7 L685.75 307.6 L686.33 308.3 L686.89 305.8 L687.43 300.4 L688.00 300.0 L688.65 300.8 L689.05 298.1 L689.67 298.3 L690.27 301.1 L690.70 298.7 L691.33 302.5 L691.98 301.5 L692.39 297.8 L693.00 299.2 L693.49 304.4 L694.07 299.9 L694.67 305.8 L695.19 308.3 L695.71 301.3 L696.33 303.3 L696.76 316.1 L697.36 303.8 L697.78 315.2 L698.33 313.3 L698.91 307.6 L699.47 313.4 L700.00 308.3 L700.56 305.9 L701.18 306.0 L701.67 304.2 L702.26 303.0 L702.76 305.8 L703.33 305.8 L703.87 303.4 L704.46 306.1 L705.00 300.0 L705.56 296.3 L706.10 298.3 L706.67 296.7 L707.24 291.9 L707.71 296.9 L708.33 293.3 L708.88 291.9 L709.41 294.5 L710.00 295.0 L710.60 289.2 L711.18 290.8 L711.67 288.3 L712.15 287.4 L712.72 290.1 L713.33 290.8 L713.96 288.6 L714.51 292.0 L715.00 289.2 L715.62 280.5 L716.02 286.9 L716.67 285.0 L717.30 282.8 L717.84 283.6 L718.33 280.0 L718.88 276.2 L719.38 279.0 L720.00 277.5 L720.51 277.8 L721.12 279.0 L721.67 279.2 L722.28 277.7 L722.84 278.1 L723.33 277.5 L723.96 277.9 L724.53 280.1 L725.00 279.2 L725.61 273.6 L726.03 276.6 L726.67 270.0 L727.13 269.1 L727.84 274.2 L728.33 272.5 L728.81 270.2 L729.51 271.8 L730.00 268.3 L730.58 266.6 L731.21 266.5 L731.67 265.0 L732.16 262.8 L732.82 265.7 L733.33 263.3 L733.83 261.7 L734.35 263.1 L735.00 260.8 L735.52 260.7 L736.07 263.5 L736.67 262.5 L737.24 261.3 L737.70 261.7 L738.33 260.0 L738.93 259.8 L739.37 260.7 L740.00 260.8 L740.64 258.9 L741.05 260.1 L741.67 258.3 L742.32 256.6 L742.75 259.0 L743.33 255.8 L743.85 252.4 L744.47 252.9 L745.00 250.0 L745.54 245.0 L746.10 248.1 L746.67 240.8 L747.33 241.5 L748.00 250.0 L748.67 260.8 L749.37 257.3 L750.00 250.8 L750.50 250.6 L751.19 255.9 L751.67 256.7 L752.18 255.0 L752.77 257.0 L753.33 255.0 L753.98 253.5 L754.46 260.2 L755.00 259.2 L755.55 254.9 L756.07 256.9 L756.67 254.2 L757.21 253.8 L757.82 256.2 L758.33 256.7 L758.92 258.0 L759.37 261.8 L760.00 260.8 L760.63 260.3 L761.08 261.0 L761.67 259.2 L762.29 258.6 L762.79 268.4 L763.33 266.7 L763.81 267.1 L764.42 269.4 L765.00 270.0 L765.53 266.9 L766.08 270.7 L766.67 263.3 L767.30 263.6 L767.80 264.5 L768.33 265.0 L768.88 265.1 L769.41 275.5 L770.00 275.0 L770.59 263.2 L771.21 276.5 L771.67 266.7 L772.32 265.0 L772.81 267.2 L773.33 265.8 L773.93 266.6 L774.44 269.7 L775.00 271.7 L775.54 273.8 L776.21 282.1 L776.67 283.3 L777.28 285.8 L778.00 291.7 L778.56 289.3 L779.17 283.3 L779.77 283.8 L780.31 289.5 L780.83 290.8 L781.41 289.4 L782.01 289.8 L782.50 286.7 L783.10 290.7 L783.60 297.8 L784.17 300.0 L784.65 298.6 L785.33 301.7 L786.08 305.0 L786.67 291.7 L787.13 286.9 L787.78 290.7 L788.33 285.0 L788.81 282.8 L789.45 283.9 L790.00 280.0 L790.48 278.0 L791.03 278.2 L791.67 276.7 L792.22 276.7 L792.73 279.8 L793.33 278.3 L793.87 274.9 L794.43 275.6 L795.00 273.3 L795.57 268.6 L796.03 272.0 L796.67 270.0 L797.29 268.8 L797.78 273.7 L798.33 271.7 L798.87 268.6 L799.54 280.6 L800.00 278.3 L800.54 278.5 L801.17 281.8 L801.67 283.3 L802.27 281.3 L802.78 281.5 L803.33 278.3 L803.79 274.9 L804.54 276.5 L805.00 273.3 L805.58 271.9 L806.09 271.6 L806.67 270.0 L807.14 272.6 L807.86 277.7 L808.33 278.3 L808.85 275.5 L809.52 283.1 L810.00 285.0 L810.64 284.3 L811.19 286.7 L811.67 286.7 L812.20 282.7 L812.73 287.7 L813.33 280.0 L813.86 275.6 L814.42 278.0 L815.00 275.0 L815.54 275.9 L816.18 278.6 L816.67 280.0 L817.13 271.8 L817.76 275.4 L818.33 271.7 L818.83 267.9 L819.41 269.8 L820.00 266.7 L820.55 267.0 L821.11 269.8 L821.67 268.3 L822.12 263.1 L822.68 268.9 L823.33 265.0 L823.91 262.1 L824.46 263.2 L825.00 261.7 L825.53 259.3 L826.13 261.9 L826.67 257.5 L827.19 254.8 L827.83 255.9 L828.33 255.0 L828.80 255.0 L829.40 260.2 L830.00 260.8 L830.00 265.0 L830.68 259.0 L831.25 261.7 L831.65 269.0 L832.08 268.3 L832.67 283.3 L833.33 293.3 L833.71 297.5 L834.17 303.3 L834.83 316.0 L835.00 325.0 L835.42 349.2 L835.83 333.3 L836.35 332.1 L836.67 327.5 L837.08 320.8 L837.57 314.8 L837.92 312.5 L838.61 312.7 L839.17 310.0 L839.64 307.6 L840.00 306.7 L840.68 311.6 L841.25 314.2 L841.78 306.4 L842.50 306.7 L843.00 303.2 L843.33 291.7 L843.75 280.8 L844.19 276.7 L844.58 293.3 L845.05 289.0 L845.42 281.7 L845.85 277.7 L846.25 288.3 L846.65 285.7 L847.08 282.5 L847.54 270.8 L847.92 278.3 L848.25 277.5 L848.75 275.0 L849.22 272.9 L849.58 276.7 L849.98 277.1 L850.42 273.3 L850.82 271.6 L851.25 271.7 L851.84 270.8 L852.50 269.2 L853.17 268.0 L853.75 267.9 L854.44 268.8 L855.00 269.2 L855.45 267.4 L855.83 267.5 L856.50 279.6 L857.08 270.0 L857.42 269.0 L857.92 267.1 L858.30 265.7 L858.75 266.7 L859.25 270.8 L859.58 271.7 L859.94 270.6 L860.42 279.2 L860.90 275.8 L861.25 266.7 L861.59 262.2 L862.08 263.3 L862.50 260.0 L862.96 259.7 L863.60 247.4 L864.17 248.3 L864.81 249.8 L865.28 242.6 L865.83 241.7 L866.44 242.7 L866.87 237.1 L867.50 235.0 L868.07 235.0 L868.55 230.8 L869.17 230.0 L869.72 236.4 L870.33 238.3 L871.02 228.1 L871.67 226.7 L872.35 225.6 L873.00 224.2 L873.65 226.3 L874.17 235.8 L874.72 236.8 L875.37 231.4 L875.83 231.7 L876.34 233.9 L876.90 232.6 L877.50 233.3 L878.01 235.7 L878.52 227.3 L879.17 226.7 L879.77 227.2 L880.26 223.5 L880.83 224.2 L881.48 226.3 L882.03 224.1 L882.50 226.7 L883.00 225.6 L883.66 219.8 L884.17 220.0 L884.79 219.9 L885.18 217.0 L885.83 216.7 L886.40 221.6 L886.91 216.2 L887.50 221.7 L888.11 225.6 L888.67 221.1 L889.17 224.2 L889.67 225.9 L890.22 223.7 L890.83 225.8 L891.31 225.5 L892.00 221.3 L892.50 223.3 L893.00 231.9 L893.33 230.8 L894.04 219.0 L894.67 221.7 L895.29 223.6 L895.83 220.0 L896.35 218.5 L896.90 229.9 L897.50 227.5 L898.01 225.4 L898.56 232.5 L899.17 234.2 L899.68 231.1 L900.27 230.4 L900.83 225.0 L901.34 223.6 L901.95 224.3 L902.50 221.7 L903.13 220.3 L903.68 230.7 L904.17 227.5 L904.77 224.6 L905.33 235.8 L906.01 233.2 L906.67 226.7 L907.37 224.9 L908.00 236.7 L908.51 236.6 L909.02 225.0 L909.67 225.0 L910.28 231.1 L910.72 229.7 L911.33 238.3 L911.93 236.5 L912.53 226.4 L913.00 229.2 L913.55 232.7 L914.17 235.8 L914.70 239.2 L915.33 246.7 L915.92 253.6 L916.33 259.2 L916.95 242.5 L917.50 243.3 L917.98 244.0 L918.62 237.0 L919.17 240.0 L919.68 252.6 L920.35 240.5 L920.83 250.0 L921.30 256.4 L921.85 246.2 L922.50 261.7 L923.12 272.6 L923.67 272.5 L924.29 266.0 L924.69 267.3 L925.33 256.7 L926.01 261.1 L926.67 270.0 L927.19 277.6 L927.78 273.4 L928.33 278.3 L928.82 285.8 L929.33 278.8 L929.84 286.6 L930.33 286.7 L931.09 278.6 L931.67 275.0 L932.18 273.5 L932.74 268.1 L933.33 268.3 L933.98 276.1 L934.53 266.9 L935.00 273.3 L935.64 280.7 L936.02 274.0 L936.67 283.3 L937.26 286.5 L937.80 281.2 L938.33 291.7 L938.92 304.3 L939.67 303.3 L940.25 304.4 L940.83 306.7 L941.31 304.7 L942.02 301.5 L942.50 300.0 L942.96 295.8 L943.68 289.1 L944.17 286.7 L944.74 287.3 L945.33 277.7 L945.83 273.3 L946.30 271.8 L947.00 265.0 L947.50 268.3 L948.04 270.8 L948.58 271.4 L949.17 273.3 L949.78 270.6 L950.23 261.9 L950.83 263.3 L951.36 263.3 L951.98 256.4 L952.50 256.7 L953.16 255.5 L953.67 253.3 L954.17 255.0 L954.66 255.8 L955.27 263.2 L955.83 263.3 L956.45 265.0 L956.98 272.9 L957.50 273.3 L958.01 266.6 L958.69 267.2 L959.17 263.3 L959.66 260.8 L960.24 261.8 L960.83 256.7 L961.43 256.2 L961.95 259.7 L962.50 258.3 L962.97 257.4 L963.55 257.8 L964.17 255.8 L964.71 255.2 L965.25 257.6 L965.83 258.3 L966.50 258.1 L967.00 266.7 L967.59 261.1 L968.33 255.0 L968.95 253.5 L969.50 254.5 L970.00 251.7 L970.53 253.1 L971.16 262.9 L971.67 260.0 L972.33 254.3 L973.00 249.2 L973.56 252.3 L974.09 246.2 L974.67 256.7 L975.18 264.8 L975.83 265.0 L976.33 258.4 L977.03 266.4 L977.50 260.0 L978.02 260.2 L978.65 262.7 L979.17 263.3 L979.81 266.4 L980.31 273.4 L980.83 275.0 L981.49 271.8 L982.00 270.8 L982.55 282.8 L983.09 273.6 L983.67 278.3 L984.42 274.1 L985.00 265.0 L985.47 261.5 L986.02 263.5 L986.67 258.3 L987.18 256.1 L987.78 256.3 L988.33 253.3 L988.90 246.6 L989.45 251.6 L990.00 247.5 L990.64 247.5 L991.03 251.1 L991.67 251.7 L992.30 253.7 L993.00 256.7 L993.56 262.4 L994.04 250.0 L994.67 250.0 L995.13 251.7 L995.73 243.4 L996.19 245.6 L996.67 243.3 L997.29 239.4 L997.87 239.9 L998.33 237.5 L998.98 236.2 L999.42 238.3 L1000.00 238.3 L1000.47 238.1 L1001.16 238.8 L1001.67 238.3 L1002.28 239.8 L1003.00 247.5 L1003.62 244.8 L1004.11 238.5 L1004.67 238.3 L1005.16 239.1 L1005.68 234.7 L1006.33 233.3 L1006.84 235.0 L1007.47 234.1 L1008.00 236.7 L1008.58 238.2 L1009.07 236.2 L1009.67 238.3 L1010.24 241.0 L1010.76 232.1 L1011.33 233.3 L1011.86 232.4 L1012.53 229.3 L1013.00 228.3 L1013.65 243.8 L1014.17 238.3 L1014.83 240.9 L1015.33 249.2 L1016.10 245.0 L1016.67 231.7 L1017.18 228.5 L1017.72 232.1 L1018.33 227.5 L1019.02 225.3 L1019.67 233.3 L1020.18 237.7 L1020.70 222.3 L1021.33 219.2 L1021.90 223.7 L1022.44 219.8 L1023.00 225.0 L1023.53 226.2 L1024.01 225.2 L1024.67 226.7 L1025.24 228.9 L1025.80 229.6 L1026.33 233.3 L1026.92 236.2 L1027.50 238.3 L1028.05 230.3 L1028.57 241.1 L1029.17 231.7 L1029.71 227.7 L1030.22 241.2 L1030.83 240.0 L1031.44 240.8 L1032.00 244.1 L1032.46 241.3 L1033.00 245.0 L1033.67 243.4 L1034.17 236.7 L1034.72 232.8 L1035.35 233.6 L1035.83 231.7 L1036.39 227.7 L1036.89 228.8 L1037.50 224.2 L1038.12 223.6 L1038.69 229.8 L1039.17 226.7 L1039.76 223.3 L1040.34 227.4 L1040.83 220.8 L1041.48 221.7 L1042.00 230.0 L1042.38 249.5 L1042.83 254.2 L1043.20 242.9 L1043.67 233.3 L1044.34 228.0 L1045.00 221.7 L1045.52 218.6 L1046.19 221.9 L1046.67 215.8 L1047.31 214.3 L1047.81 214.2 L1048.33 212.5 L1048.81 207.6 L1049.41 210.7 L1050.00 209.2 L1050.49 207.0 L1051.21 210.0 L1051.67 205.8 L1052.25 205.0 L1052.69 207.5 L1053.33 206.7 L1053.96 203.4 L1054.52 208.5 L1055.00 199.2 L1055.57 197.5 L1056.11 203.1 L1056.67 203.3 L1057.20 200.7 L1057.71 199.5 L1058.33 196.7 L1058.95 197.0 L1059.50 199.5 L1060.00 198.3 L1060.59 193.1 L1061.07 194.2 L1061.67 191.7 L1062.16 188.2 L1062.87 191.7 L1063.33 187.5 L1063.86 185.7 L1064.40 189.8 L1065.00 189.2 L1065.65 182.5 L1066.17 190.5 L1066.67 184.2 L1067.19 184.2 L1067.78 185.9 L1068.33 185.0 L1068.66 186.0 L1069.17 194.2 L1069.58 193.8 L1070.00 185.0 L1070.60 184.2 L1071.13 184.4 L1071.67 182.5 L1072.17 181.4 L1072.69 181.3 L1073.33 180.0 L1073.72 166.3 L1074.17 174.2 L1074.61 172.7 L1075.00 167.5 L1075.54 163.1 L1076.11 164.5 L1076.67 160.8 L1077.43 160.6 L1078.00 162.5 L1078.62 162.1 L1079.17 155.0 L1079.64 153.9 L1080.00 165.0 L1080.75 167.8 L1081.33 168.3 L1082.00 175.8 L1082.50 183.3 L1083.02 183.5 L1083.33 172.5 L1083.76 163.0 L1084.17 159.2 L1084.66 164.9 L1085.33 162.5 L1085.76 160.4 L1086.33 160.8" stroke="#ff0000" stroke-width="1.55" fill="none" stroke-linejoin="round"/></g></svg>
<rect x="45.5" y="29.3" width="1110.0" height="571.7" fill="none" stroke="#000" stroke-width="2.6"/>
<path d="M39.3 601.0H45.5M1155.5 601.0H1161.1 M39.3 569.7H45.5M1155.5 569.7H1161.1 M39.3 542.0H45.5M1155.5 542.0H1161.1 M39.3 517.3H45.5M1155.5 517.3H1161.1 M39.3 354.6H45.5M1155.5 354.6H1161.1 M39.3 259.5H45.5M1155.5 259.5H1161.1 M39.3 192.0H45.5M1155.5 192.0H1161.1 M39.3 139.6H45.5M1155.5 139.6H1161.1 M39.3 96.8H45.5M1155.5 96.8H1161.1 M39.3 60.6H45.5M1155.5 60.6H1161.1 M39.3 29.3H45.5M1155.5 29.3H1161.1 M42.1 594.4H45.5M1155.5 594.4H1158.5 M42.1 588.0H45.5M1155.5 588.0H1158.5 M42.1 581.7H45.5M1155.5 581.7H1158.5 M42.1 575.6H45.5M1155.5 575.6H1158.5 M42.1 563.9H45.5M1155.5 563.9H1158.5 M42.1 558.2H45.5M1155.5 558.2H1158.5 M42.1 552.7H45.5M1155.5 552.7H1158.5 M42.1 547.3H45.5M1155.5 547.3H1158.5 M42.1 536.9H45.5M1155.5 536.9H1158.5 M42.1 531.8H45.5M1155.5 531.8H1158.5 M42.1 526.9H45.5M1155.5 526.9H1158.5 M42.1 522.0H45.5M1155.5 522.0H1158.5 M42.1 474.5H45.5M1155.5 474.5H1158.5 M42.1 438.3H45.5M1155.5 438.3H1158.5 M42.1 407.0H45.5M1155.5 407.0H1158.5 M42.1 379.4H45.5M1155.5 379.4H1158.5 M42.1 332.3H45.5M1155.5 332.3H1158.5 M42.1 311.8H45.5M1155.5 311.8H1158.5 M42.1 293.1H45.5M1155.5 293.1H1158.5 M42.1 275.7H45.5M1155.5 275.7H1158.5 M42.1 244.3H45.5M1155.5 244.3H1158.5 M42.1 230.1H45.5M1155.5 230.1H1158.5 M42.1 216.7H45.5M1155.5 216.7H1158.5 M42.1 204.0H45.5M1155.5 204.0H1158.5 M42.1 180.5H45.5M1155.5 180.5H1158.5 M42.1 169.6H45.5M1155.5 169.6H1158.5 M42.1 159.2H45.5M1155.5 159.2H1158.5 M42.1 149.2H45.5M1155.5 149.2H1158.5 M42.1 130.4H45.5M1155.5 130.4H1158.5 M42.1 121.5H45.5M1155.5 121.5H1158.5 M42.1 113.0H45.5M1155.5 113.0H1158.5 M42.1 104.8H45.5M1155.5 104.8H1158.5 M42.1 89.1H45.5M1155.5 89.1H1158.5 M42.1 81.7H45.5M1155.5 81.7H1158.5 M42.1 74.4H45.5M1155.5 74.4H1158.5 M42.1 67.4H45.5M1155.5 67.4H1158.5 M42.1 54.0H45.5M1155.5 54.0H1158.5 M42.1 47.6H45.5M1155.5 47.6H1158.5 M42.1 41.3H45.5M1155.5 41.3H1158.5 M42.1 35.2H45.5M1155.5 35.2H1158.5" stroke="#000" stroke-width="0.95" fill="none"/>
<path d="M45.2 601.0V604.2 M55.5 601.0V604.2 M65.8 601.0V604.2 M76.0 601.0V604.2 M86.3 601.0V607.0 M96.6 601.0V604.2 M106.9 601.0V604.2 M117.1 601.0V604.2 M127.4 601.0V604.2 M137.7 601.0V604.2 M147.9 601.0V604.2 M158.2 601.0V604.2 M168.5 601.0V607.0 M178.8 601.0V604.2 M189.1 601.0V604.2 M199.3 601.0V604.2 M209.6 601.0V604.2 M219.9 601.0V604.2 M230.2 601.0V604.2 M240.4 601.0V604.2 M250.7 601.0V607.0 M261.0 601.0V604.2 M271.2 601.0V604.2 M281.5 601.0V604.2 M291.8 601.0V604.2 M302.1 601.0V604.2 M312.4 601.0V604.2 M322.6 601.0V604.2 M332.9 601.0V607.0 M343.2 601.0V604.2 M353.4 601.0V604.2 M363.7 601.0V604.2 M374.0 601.0V604.2 M384.3 601.0V604.2 M394.6 601.0V604.2 M404.8 601.0V604.2 M415.1 601.0V607.0 M425.4 601.0V604.2 M435.6 601.0V604.2 M445.9 601.0V604.2 M456.2 601.0V604.2 M466.5 601.0V604.2 M476.8 601.0V604.2 M487.0 601.0V604.2 M497.3 601.0V607.0 M507.6 601.0V604.2 M517.9 601.0V604.2 M528.1 601.0V604.2 M538.4 601.0V604.2 M548.7 601.0V604.2 M559.0 601.0V604.2 M569.2 601.0V604.2 M579.5 601.0V607.0 M589.8 601.0V604.2 M600.1 601.0V604.2 M610.3 601.0V604.2 M620.6 601.0V604.2 M630.9 601.0V604.2 M641.2 601.0V604.2 M651.4 601.0V604.2 M661.7 601.0V607.0 M672.0 601.0V604.2 M682.3 601.0V604.2 M692.5 601.0V604.2 M702.8 601.0V604.2 M713.1 601.0V604.2 M723.4 601.0V604.2 M733.6 601.0V604.2 M743.9 601.0V607.0 M754.2 601.0V604.2 M764.5 601.0V604.2 M774.7 601.0V604.2 M785.0 601.0V604.2 M795.3 601.0V604.2 M805.6 601.0V604.2 M815.8 601.0V604.2 M826.1 601.0V607.0 M836.4 601.0V604.2 M846.7 601.0V604.2 M856.9 601.0V604.2 M867.2 601.0V604.2 M877.5 601.0V604.2 M887.8 601.0V604.2 M898.0 601.0V604.2 M908.3 601.0V607.0 M918.6 601.0V604.2 M928.9 601.0V604.2 M939.1 601.0V604.2 M949.4 601.0V604.2 M959.7 601.0V604.2 M970.0 601.0V604.2 M980.2 601.0V604.2 M990.5 601.0V607.0 M1000.8 601.0V604.2 M1011.1 601.0V604.2 M1021.3 601.0V604.2 M1031.6 601.0V604.2 M1041.9 601.0V604.2 M1052.2 601.0V604.2 M1062.4 601.0V604.2 M1072.7 601.0V607.0 M1083.0 601.0V604.2 M1093.2 601.0V604.2 M1103.5 601.0V604.2 M1113.8 601.0V604.2 M1124.1 601.0V604.2 M1134.4 601.0V604.2 M1144.6 601.0V604.2" stroke="#000" stroke-width="0.95" fill="none"/>
<text x="34" y="604.7" font-size="14.8" text-anchor="end">70</text>
<text x="1166.3" y="604.7" font-size="14.8">70</text>
<text x="34" y="573.4" font-size="14.8" text-anchor="end">80</text>
<text x="1166.3" y="573.4" font-size="14.8">80</text>
<text x="34" y="545.7" font-size="14.8" text-anchor="end">90</text>
<text x="1166.3" y="545.7" font-size="14.8">90</text>
<text x="34" y="521.0" font-size="14.8" text-anchor="end">100</text>
<text x="1166.3" y="521.0" font-size="14.8">100</text>
<text x="34" y="358.3" font-size="14.8" text-anchor="end">200</text>
<text x="1166.3" y="358.3" font-size="14.8">200</text>
<text x="34" y="263.2" font-size="14.8" text-anchor="end">300</text>
<text x="1166.3" y="263.2" font-size="14.8">300</text>
<text x="34" y="195.7" font-size="14.8" text-anchor="end">400</text>
<text x="1166.3" y="195.7" font-size="14.8">400</text>
<text x="34" y="143.3" font-size="14.8" text-anchor="end">500</text>
<text x="1166.3" y="143.3" font-size="14.8">500</text>
<text x="34" y="100.5" font-size="14.8" text-anchor="end">600</text>
<text x="1166.3" y="100.5" font-size="14.8">600</text>
<text x="34" y="64.3" font-size="14.8" text-anchor="end">700</text>
<text x="1166.3" y="64.3" font-size="14.8">700</text>
<text x="34" y="33.0" font-size="14.8" text-anchor="end">800</text>
<text x="1166.3" y="33.0" font-size="14.8">800</text>
<text x="86.3" y="622.9" font-size="14.8" text-anchor="middle">2002</text>
<text x="168.5" y="622.9" font-size="14.8" text-anchor="middle">2004</text>
<text x="250.7" y="622.9" font-size="14.8" text-anchor="middle">2006</text>
<text x="332.9" y="622.9" font-size="14.8" text-anchor="middle">2008</text>
<text x="415.1" y="622.9" font-size="14.8" text-anchor="middle">2010</text>
<text x="497.3" y="622.9" font-size="14.8" text-anchor="middle">2012</text>
<text x="579.5" y="622.9" font-size="14.8" text-anchor="middle">2014</text>
<text x="661.7" y="622.9" font-size="14.8" text-anchor="middle">2016</text>
<text x="743.9" y="622.9" font-size="14.8" text-anchor="middle">2018</text>
<text x="826.1" y="622.9" font-size="14.8" text-anchor="middle">2020</text>
<text x="908.3" y="622.9" font-size="14.8" text-anchor="middle">2022</text>
<text x="990.5" y="622.9" font-size="14.8" text-anchor="middle">2024</text>
<text x="1072.7" y="622.9" font-size="14.8" text-anchor="middle">2026</text>
<rect x="48" y="32" width="744" height="30" fill="#2f7f73"/>
<text x="420.2" y="53.4" font-size="19.36" fill="#fff" text-anchor="middle">ALL COUNTRY WORLD EX US MSCI, FORWARD EARNINGS, &amp; VALUATION</text>
<rect x="49" y="65" width="448.3" height="56.2" fill="#fff" stroke="#000" stroke-width="1.6"/>
<path d="M54 75.1H87.5" stroke="#f00" stroke-width="1.3"/>
<path d="M54 92.2H87.5" stroke="#00f" stroke-width="1.3"/>
<rect x="54" y="103.3" width="33.5" height="11.3" fill="#d9d9d9"/>
<text x="93" y="80" font-size="15">All Country world ex US Price Index (Apr 27 = 456.15)</text>
<text x="93" y="96.6" font-size="15">Blue Angels Implied Price Index* (Apr 27)</text>
<text x="93" y="113.8" font-size="15">Recession</text>
<text x="1093" y="88.9" font-size="14.8" fill="#0000ff">x20</text>
<text x="1092.3" y="151.6" font-size="14.8" fill="#0000ff">x15</text>
<text x="1092.3" y="250.7" font-size="14.8" fill="#0000ff">x10</text>
<text x="47" y="647" font-size="14.93">Source: LSEG Datastream and © Yardeni Research.</text>
<text x="47" y="667.5" font-size="15">* Implied price index calculated using forward earnings times forward P/Es.</text>
</svg></body></html>
